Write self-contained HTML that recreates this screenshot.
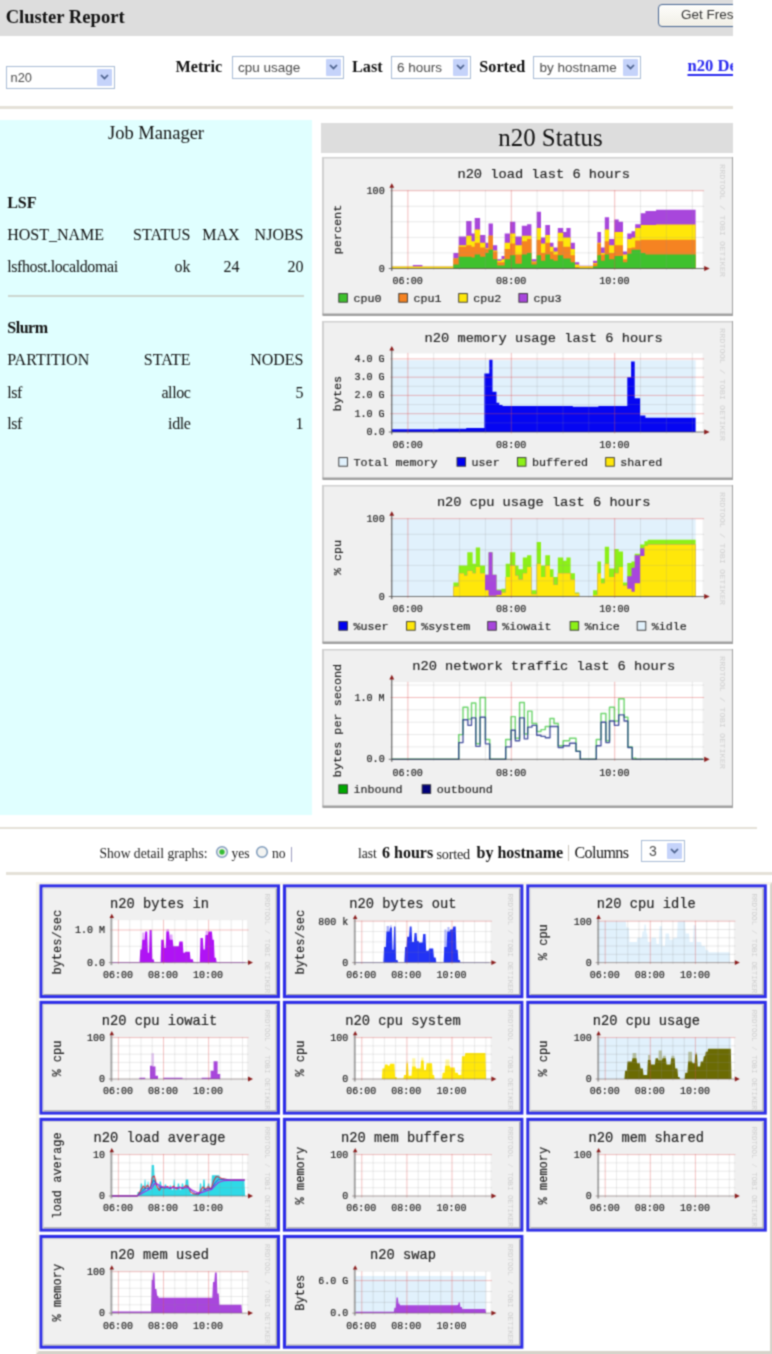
<!DOCTYPE html>
<html><head><meta charset="utf-8"><title>Cluster Report</title>
<style>
html,body{margin:0;padding:0;background:#fff;}
body{width:772px;height:1354px;position:relative;overflow:hidden;font-family:"Liberation Serif",serif;color:#000;}
.a{position:absolute;white-space:nowrap;}
.t{position:absolute;white-space:nowrap;line-height:20px;height:20px;font-size:16px;color:#111;}
.b{font-weight:bold;}
.r{text-align:right;}
.sel{position:absolute;box-sizing:border-box;border:1px solid #a9bcd6;background:#fff;font-family:"Liberation Sans",sans-serif;color:#4a4a4a;}
.sel span{position:absolute;left:5px;top:0;white-space:nowrap;}
.sel i{position:absolute;right:2px;top:2px;bottom:2px;width:15px;background:#c5d3fa;border-radius:1px;}
.sel i svg{position:absolute;left:3px;top:50%;margin-top:-3px;}
svg text{font-family:"Liberation Mono",monospace;stroke:#222;stroke-width:0.17px;}
#top{position:absolute;left:-10px;top:-10px;width:743px;height:842px;overflow:hidden;}
#topi{position:absolute;left:10px;top:10px;width:0;height:0;}
.g{position:absolute;overflow:hidden;}
.cell{position:absolute;box-sizing:border-box;border:3px solid #2727e6;background:#efefef;overflow:hidden;}
#all{position:absolute;left:0;top:0;width:772px;height:1354px;overflow:hidden;filter:url(#sf);background:#fff;}
</style></head><body><svg width="0" height="0" style="position:absolute"><filter id="sf" x="0" y="0" width="100%" height="100%" color-interpolation-filters="sRGB"><feConvolveMatrix order="3" kernelMatrix="0.0441 0.1218 0.0441 0.1218 0.3364 0.1218 0.0441 0.1218 0.0441" divisor="1" edgeMode="duplicate" preserveAlpha="true"/></filter></svg><div id="all">

<div id="top"><div id="topi">
<div class="a" style="left:-10px;top:-10px;width:743px;height:46px;background:#dddddd"></div>
<div class="t b" style="left:5.7px;top:6.8px;font-size:18.6px;">Cluster Report</div>
<div class="a" style="left:658px;top:4px;width:120px;height:23px;box-sizing:border-box;border:1.8px solid #4a6894;border-radius:4px;background:linear-gradient(#fdfdfb,#f1efe6);font-family:Liberation Sans,sans-serif;font-size:13.5px;line-height:20px;color:#333;padding-left:22px">Get Fresh Data</div>
<div class="sel" style="left:6px;top:65.5px;width:109.3px;height:23px;font-size:12.8px;line-height:21px;letter-spacing:0px"><span style="left:3.6px">n20</span><i><svg width="9" height="6" viewBox="0 0 9 6"><path d="M1 1 L4.5 4.5 L8 1" fill="none" stroke="#4a5f8a" stroke-width="1.7"/></svg></i></div>
<div class="t b" style="left:175.5px;top:57.3px;font-size:16.2px;">Metric</div>
<div class="sel" style="left:231.5px;top:55.5px;width:112.5px;height:23px;font-size:13.5px;line-height:21px;letter-spacing:0px"><span style="left:5.5px">cpu usage</span><i><svg width="9" height="6" viewBox="0 0 9 6"><path d="M1 1 L4.5 4.5 L8 1" fill="none" stroke="#4a5f8a" stroke-width="1.7"/></svg></i></div>
<div class="t b" style="left:352px;top:57.3px;font-size:16.2px;">Last</div>
<div class="sel" style="left:390.5px;top:55.5px;width:80px;height:23px;font-size:13.5px;line-height:21px;letter-spacing:0px"><span style="left:5.5px">6 hours</span><i><svg width="9" height="6" viewBox="0 0 9 6"><path d="M1 1 L4.5 4.5 L8 1" fill="none" stroke="#4a5f8a" stroke-width="1.7"/></svg></i></div>
<div class="t b" style="left:479.3px;top:57.3px;font-size:16.2px;">Sorted</div>
<div class="sel" style="left:533px;top:55.5px;width:108px;height:23px;font-size:13.5px;line-height:21px;letter-spacing:0px"><span style="left:5.5px">by hostname</span><i><svg width="9" height="6" viewBox="0 0 9 6"><path d="M1 1 L4.5 4.5 L8 1" fill="none" stroke="#4a5f8a" stroke-width="1.7"/></svg></i></div>
<div class="t b" style="left:687.5px;top:56.3px;font-size:16.6px;color:#2a2af0;text-decoration:underline;text-underline-offset:2.6px;text-decoration-thickness:1.7px">n20 Details</div>
<div class="a" style="left:-10px;top:106.3px;width:743px;height:2.6px;background:#e4e1d8"></div>
<div class="a" style="left:-10px;top:120px;width:322px;height:695px;background:#e0ffff"></div>
<div class="t " style="left:0px;top:123px;font-size:18.5px;width:312px;text-align:center;">Job Manager</div>
<div class="t b" style="left:7.2px;top:193px;font-size:16px;">LSF</div>
<div class="t " style="left:7.2px;top:225px;font-size:16px;">HOST_NAME</div>
<div class="t r" style="left:100px;top:225px;font-size:16px;width:90.5px;">STATUS</div>
<div class="t r" style="left:180px;top:225px;font-size:16px;width:59.5px;">MAX</div>
<div class="t r" style="left:240px;top:225px;font-size:16px;width:63.5px;">NJOBS</div>
<div class="t " style="left:7.2px;top:256.5px;font-size:16px;letter-spacing:-0.4px;">lsfhost.localdomai</div>
<div class="t r" style="left:100px;top:256.5px;font-size:16px;width:90.5px;">ok</div>
<div class="t r" style="left:180px;top:256.5px;font-size:16px;width:59.5px;">24</div>
<div class="t r" style="left:240px;top:256.5px;font-size:16px;width:63.5px;">20</div>
<div class="a" style="left:7.5px;top:294.8px;width:296px;height:2.4px;background:#ccd6d0"></div>
<div class="t b" style="left:7.2px;top:317.5px;font-size:16px;letter-spacing:-0.45px;">Slurm</div>
<div class="t " style="left:7.2px;top:349.5px;font-size:16px;">PARTITION</div>
<div class="t r" style="left:100px;top:349.5px;font-size:16px;width:90.5px;">STATE</div>
<div class="t r" style="left:200px;top:349.5px;font-size:16px;width:103.5px;">NODES</div>
<div class="t " style="left:7.2px;top:382.5px;font-size:16px;letter-spacing:-0.4px;">lsf</div>
<div class="t r" style="left:100px;top:382.5px;font-size:16px;width:90.5px;letter-spacing:-0.4px;">alloc</div>
<div class="t r" style="left:200px;top:382.5px;font-size:16px;width:103.5px;">5</div>
<div class="t " style="left:7.2px;top:414px;font-size:16px;letter-spacing:-0.4px;">lsf</div>
<div class="t r" style="left:100px;top:414px;font-size:16px;width:90.5px;letter-spacing:-0.4px;">idle</div>
<div class="t r" style="left:200px;top:414px;font-size:16px;width:103.5px;">1</div>
<div class="a" style="left:320.5px;top:123.3px;width:413px;height:30px;background:#dddddd"></div>
<div class="t " style="left:320.5px;top:125.4px;font-size:24.9px;width:460px;text-align:center;line-height:26px;height:26px;">n20 Status</div>
<svg class="g" style="left:322px;top:157px" width="413" height="159"><g transform="translate(0.50,0.00)"><rect x="0" y="0" width="411" height="158" fill="#f0f0f0"/><path d="M0 158 L0 0 L411 0" fill="none" stroke="#d0d0d0" stroke-width="3"/><path d="M0 158 L411 158 L411 0" fill="none" stroke="#a0a0a0" stroke-width="3"/><rect x="69.3" y="33.7" width="310.8" height="77.8" fill="#fff"/><path d="M69.3 109.6 L90.3 109.6 L90.3 108 L99.9 108 L99.9 109.6 L130.9 109.6 L130.9 95.9 L136.2 95.9 L136.2 79.6 L143.7 79.6 L143.7 64 L149 64 L149 76.5 L152.2 76.5 L152.2 60.9 L157.6 60.9 L157.6 78 L162.9 78 L162.9 85.8 L166.1 85.8 L166.1 66.4 L170.4 66.4 L170.4 88.2 L174.7 88.2 L174.7 102.2 L179 102.2 L179 99.1 L182.2 99.1 L182.2 76.5 L187.5 76.5 L187.5 64.8 L192.8 64.8 L192.8 79.6 L199.3 79.6 L199.3 68.7 L204.6 68.7 L204.6 67.2 L208.9 67.2 L208.9 102.2 L214.2 102.2 L214.2 54.7 L218.5 54.7 L218.5 80.4 L222.8 80.4 L222.8 67.9 L227.5 67.9 L227.5 85.8 L231 85.8 L231 90.5 L235.3 90.5 L235.3 71 L240.7 71 L240.7 74.9 L243.9 74.9 L243.9 71 L248.1 71 L248.1 85.8 L252.4 85.8 L252.4 105.3 L256.7 105.3 L256.7 108.8 L270.6 108.8 L270.6 103.7 L274.9 103.7 L274.9 74.9 L278.5 74.9 L278.5 90.5 L282.3 90.5 L282.3 60.2 L286.6 60.2 L286.6 81.9 L291.9 81.9 L291.9 62.5 L296.2 62.5 L296.2 64.8 L300.5 64.8 L300.5 94.4 L304.8 94.4 L304.8 76.5 L309 76.5 L309 74.2 L312.7 74.2 L312.7 67.2 L318.2 67.2 L318.2 56.3 L322.9 56.3 L322.9 53.9 L333.6 53.9 L333.6 52.8 L373.1 52.8 L373.1 111.5 L69.3 111.5Z" fill="#a846dc"/><path d="M69.3 109.6 L90.3 109.6 L90.3 109.6 L99.9 109.6 L99.9 109.6 L130.9 109.6 L130.9 101.4 L136.2 101.4 L136.2 88.2 L143.7 88.2 L143.7 78.8 L149 78.8 L149 84.3 L152.2 84.3 L152.2 72.6 L157.6 72.6 L157.6 85.8 L162.9 85.8 L162.9 91.3 L166.1 91.3 L166.1 78.8 L170.4 78.8 L170.4 93.6 L174.7 93.6 L174.7 103.7 L179 103.7 L179 102.2 L182.2 102.2 L182.2 85.8 L187.5 85.8 L187.5 76.5 L192.8 76.5 L192.8 88.2 L199.3 88.2 L199.3 78.8 L204.6 78.8 L204.6 78.8 L208.9 78.8 L208.9 104.5 L214.2 104.5 L214.2 71 L218.5 71 L218.5 86.6 L222.8 86.6 L222.8 78 L227.5 78 L227.5 89.7 L231 89.7 L231 94.4 L235.3 94.4 L235.3 75.7 L240.7 75.7 L240.7 80.4 L243.9 80.4 L243.9 80.4 L248.1 80.4 L248.1 92 L252.4 92 L252.4 107.6 L256.7 107.6 L256.7 109.2 L270.6 109.2 L270.6 106.1 L274.9 106.1 L274.9 85.8 L278.5 85.8 L278.5 95.9 L282.3 95.9 L282.3 72.6 L286.6 72.6 L286.6 88.2 L291.9 88.2 L291.9 74.9 L296.2 74.9 L296.2 74.9 L300.5 74.9 L300.5 97.5 L304.8 97.5 L304.8 81.9 L309 81.9 L309 80.4 L312.7 80.4 L312.7 71 L318.2 71 L318.2 67.9 L322.9 67.9 L322.9 67.9 L333.6 67.9 L333.6 67.5 L373.1 67.5 L373.1 111.5 L69.3 111.5Z" fill="#ffe70a"/><path d="M69.3 111.5 L90.3 111.5 L90.3 111.5 L99.9 111.5 L99.9 111.5 L130.9 111.5 L130.9 101.4 L136.2 101.4 L136.2 89.7 L143.7 89.7 L143.7 88.2 L149 88.2 L149 89.7 L152.2 89.7 L152.2 85.8 L157.6 85.8 L157.6 90.5 L162.9 90.5 L162.9 92 L166.1 92 L166.1 78.8 L170.4 78.8 L170.4 94.4 L174.7 94.4 L174.7 105.3 L179 105.3 L179 105.3 L182.2 105.3 L182.2 92 L187.5 92 L187.5 86.6 L192.8 86.6 L192.8 97.5 L199.3 97.5 L199.3 84.3 L204.6 84.3 L204.6 81.9 L208.9 81.9 L208.9 105.3 L214.2 105.3 L214.2 82.7 L218.5 82.7 L218.5 95.9 L222.8 95.9 L222.8 85.8 L227.5 85.8 L227.5 94.4 L231 94.4 L231 97.5 L235.3 97.5 L235.3 84.3 L240.7 84.3 L240.7 89.7 L243.9 89.7 L243.9 89.7 L248.1 89.7 L248.1 98.3 L252.4 98.3 L252.4 109.9 L256.7 109.9 L256.7 110.7 L270.6 110.7 L270.6 106.8 L274.9 106.8 L274.9 86.6 L278.5 86.6 L278.5 97.5 L282.3 97.5 L282.3 84.3 L286.6 84.3 L286.6 95.9 L291.9 95.9 L291.9 88.2 L296.2 88.2 L296.2 88.2 L300.5 88.2 L300.5 102.2 L304.8 102.2 L304.8 91.3 L309 91.3 L309 90.5 L312.7 90.5 L312.7 83.5 L318.2 83.5 L318.2 82.7 L322.9 82.7 L322.9 82.7 L333.6 82.7 L333.6 82.7 L373.1 82.7 L373.1 111.5 L69.3 111.5Z" fill="#f58322"/><path d="M69.3 111.5 L90.3 111.5 L90.3 111.5 L99.9 111.5 L99.9 111.5 L130.9 111.5 L130.9 107.6 L136.2 107.6 L136.2 99.8 L143.7 99.8 L143.7 99.8 L149 99.8 L149 100.6 L152.2 100.6 L152.2 97.5 L157.6 97.5 L157.6 99.8 L162.9 99.8 L162.9 95.9 L166.1 95.9 L166.1 92.8 L170.4 92.8 L170.4 102.2 L174.7 102.2 L174.7 108.4 L179 108.4 L179 108.4 L182.2 108.4 L182.2 102.2 L187.5 102.2 L187.5 98.3 L192.8 98.3 L192.8 106.8 L199.3 106.8 L199.3 97.5 L204.6 97.5 L204.6 95.9 L208.9 95.9 L208.9 107.6 L214.2 107.6 L214.2 98.3 L218.5 98.3 L218.5 103.7 L222.8 103.7 L222.8 97.5 L227.5 97.5 L227.5 102.2 L231 102.2 L231 103.7 L235.3 103.7 L235.3 98.3 L240.7 98.3 L240.7 101.4 L243.9 101.4 L243.9 101.4 L248.1 101.4 L248.1 105.3 L252.4 105.3 L252.4 110.7 L256.7 110.7 L256.7 111.1 L270.6 111.1 L270.6 109.2 L274.9 109.2 L274.9 98.3 L278.5 98.3 L278.5 103.7 L282.3 103.7 L282.3 97.5 L286.6 97.5 L286.6 102.2 L291.9 102.2 L291.9 99.1 L296.2 99.1 L296.2 99.1 L300.5 99.1 L300.5 105.3 L304.8 105.3 L304.8 96.7 L309 96.7 L309 92.8 L312.7 92.8 L312.7 92.8 L318.2 92.8 L318.2 95.9 L322.9 95.9 L322.9 97.5 L333.6 97.5 L333.6 97.5 L373.1 97.5 L373.1 111.5 L69.3 111.5Z" fill="#3fc12e"/><line x1="85.4" y1="33.2" x2="85.4" y2="113.0" stroke="#e05050" stroke-width="0.9" stroke-opacity="0.42"/><line x1="111.2" y1="33.2" x2="111.2" y2="113.0" stroke="#909090" stroke-width="0.9" stroke-opacity="0.22"/><line x1="137.1" y1="33.2" x2="137.1" y2="113.0" stroke="#909090" stroke-width="0.9" stroke-opacity="0.22"/><line x1="162.9" y1="33.2" x2="162.9" y2="113.0" stroke="#909090" stroke-width="0.9" stroke-opacity="0.22"/><line x1="188.8" y1="33.2" x2="188.8" y2="113.0" stroke="#e05050" stroke-width="0.9" stroke-opacity="0.42"/><line x1="214.6" y1="33.2" x2="214.6" y2="113.0" stroke="#909090" stroke-width="0.9" stroke-opacity="0.22"/><line x1="240.5" y1="33.2" x2="240.5" y2="113.0" stroke="#909090" stroke-width="0.9" stroke-opacity="0.22"/><line x1="266.3" y1="33.2" x2="266.3" y2="113.0" stroke="#909090" stroke-width="0.9" stroke-opacity="0.22"/><line x1="292.2" y1="33.2" x2="292.2" y2="113.0" stroke="#e05050" stroke-width="0.9" stroke-opacity="0.42"/><line x1="318" y1="33.2" x2="318" y2="113.0" stroke="#909090" stroke-width="0.9" stroke-opacity="0.22"/><line x1="343.9" y1="33.2" x2="343.9" y2="113.0" stroke="#909090" stroke-width="0.9" stroke-opacity="0.22"/><line x1="369.8" y1="33.2" x2="369.8" y2="113.0" stroke="#909090" stroke-width="0.9" stroke-opacity="0.22"/><line x1="67.8" y1="95.9" x2="381.6" y2="95.9" stroke="#909090" stroke-width="0.9" stroke-opacity="0.22"/><line x1="67.8" y1="80.4" x2="381.6" y2="80.4" stroke="#909090" stroke-width="0.9" stroke-opacity="0.22"/><line x1="67.8" y1="64.8" x2="381.6" y2="64.8" stroke="#909090" stroke-width="0.9" stroke-opacity="0.22"/><line x1="67.8" y1="49.3" x2="381.6" y2="49.3" stroke="#909090" stroke-width="0.9" stroke-opacity="0.22"/><line x1="67.8" y1="33.7" x2="381.6" y2="33.7" stroke="#e05050" stroke-width="0.9" stroke-opacity="0.42"/><line x1="69.3" y1="28.700000000000003" x2="69.3" y2="114.0" stroke="#4a4a4a" stroke-width="1"/><line x1="66.3" y1="111.5" x2="384.2" y2="111.5" stroke="#4a4a4a" stroke-width="1" stroke-opacity="0.75"/><path d="M387.2 111.5 l-5.5 -2.6 v5.2z" fill="#8a1c1c"/><path d="M69.3 26.200000000000003 l-2.4 4.6 h4.8z" fill="#8a1c1c"/><text x="62.2" y="36.7" font-size="10.1" text-anchor="end" fill="#222">100</text><text x="62.2" y="114.5" font-size="10.1" text-anchor="end" fill="#222">0</text><text x="85.2" y="126.6" font-size="10.1" text-anchor="middle" fill="#222">06:00</text><text x="188.7" y="126.6" font-size="10.1" text-anchor="middle" fill="#222">08:00</text><text x="291.9" y="126.6" font-size="10.1" text-anchor="middle" fill="#222">10:00</text><text x="221.2" y="21.4" font-size="13.7" text-anchor="middle" fill="#222">n20 load last 6 hours</text><text transform="translate(18.6,72.5) rotate(-90)" font-size="11.8" text-anchor="middle" fill="#222">percent</text><rect x="16.3" y="136.6" width="8.6" height="8.6" fill="#3fc12e" stroke="#333" stroke-width="0.9"/><text x="30.9" y="144.89999999999998" font-size="11.7" fill="#222">cpu0</text><rect x="76.3" y="136.6" width="8.6" height="8.6" fill="#f58322" stroke="#333" stroke-width="0.9"/><text x="90.89999999999999" y="144.89999999999998" font-size="11.7" fill="#222">cpu1</text><rect x="136.2" y="136.6" width="8.6" height="8.6" fill="#ffe70a" stroke="#333" stroke-width="0.9"/><text x="150.79999999999998" y="144.89999999999998" font-size="11.7" fill="#222">cpu2</text><rect x="196.4" y="136.6" width="8.6" height="8.6" fill="#a846dc" stroke="#333" stroke-width="0.9"/><text x="211.0" y="144.89999999999998" font-size="11.7" fill="#222">cpu3</text><text transform="translate(397.6,7) rotate(90)" font-size="6.3" fill="#cfcfcf" style="stroke:none" font-family="Liberation Sans, sans-serif" textLength="113" lengthAdjust="spacingAndGlyphs">RRDTOOL / TOBI OETIKER</text></g></svg>
<svg class="g" style="left:322px;top:321px" width="413" height="159"><g transform="translate(0.50,0.00)"><rect x="0" y="0" width="411" height="158" fill="#f0f0f0"/><path d="M0 158 L0 0 L411 0" fill="none" stroke="#d0d0d0" stroke-width="3"/><path d="M0 158 L411 158 L411 0" fill="none" stroke="#a0a0a0" stroke-width="3"/><rect x="69.3" y="32.4" width="310.8" height="78.6" fill="#fff"/><rect x="69.3" y="39.2" width="303.8" height="71.8" fill="#e1f1fc"/><path d="M69.3 108.3 L115.9 108.3 L115.9 107.7 L143.7 107.7 L143.7 107 L161.9 107 L161.9 52.5 L166.8 52.5 L166.8 38.8 L170 38.8 L170 70.8 L174 70.8 L174 81.8 L176.8 81.8 L176.8 84.1 L180 84.1 L180 85 L227.5 85 L227.5 85 L250.3 85 L250.3 85.8 L275.9 85.8 L275.9 85 L304.8 85 L304.8 56.2 L308.6 56.2 L308.6 40.6 L312.2 40.6 L312.2 77.2 L317.6 77.2 L317.6 94.5 L322.9 94.5 L322.9 96.7 L373.1 96.7 L373.1 111 L69.3 111Z" fill="#0606f2"/><line x1="85.4" y1="31.9" x2="85.4" y2="112.5" stroke="#e05050" stroke-width="0.9" stroke-opacity="0.42"/><line x1="111.2" y1="31.9" x2="111.2" y2="112.5" stroke="#909090" stroke-width="0.9" stroke-opacity="0.22"/><line x1="137.1" y1="31.9" x2="137.1" y2="112.5" stroke="#909090" stroke-width="0.9" stroke-opacity="0.22"/><line x1="162.9" y1="31.9" x2="162.9" y2="112.5" stroke="#909090" stroke-width="0.9" stroke-opacity="0.22"/><line x1="188.8" y1="31.9" x2="188.8" y2="112.5" stroke="#e05050" stroke-width="0.9" stroke-opacity="0.42"/><line x1="214.6" y1="31.9" x2="214.6" y2="112.5" stroke="#909090" stroke-width="0.9" stroke-opacity="0.22"/><line x1="240.5" y1="31.9" x2="240.5" y2="112.5" stroke="#909090" stroke-width="0.9" stroke-opacity="0.22"/><line x1="266.3" y1="31.9" x2="266.3" y2="112.5" stroke="#909090" stroke-width="0.9" stroke-opacity="0.22"/><line x1="292.2" y1="31.9" x2="292.2" y2="112.5" stroke="#e05050" stroke-width="0.9" stroke-opacity="0.42"/><line x1="318" y1="31.9" x2="318" y2="112.5" stroke="#909090" stroke-width="0.9" stroke-opacity="0.22"/><line x1="343.9" y1="31.9" x2="343.9" y2="112.5" stroke="#909090" stroke-width="0.9" stroke-opacity="0.22"/><line x1="369.8" y1="31.9" x2="369.8" y2="112.5" stroke="#909090" stroke-width="0.9" stroke-opacity="0.22"/><line x1="67.8" y1="101.9" x2="381.6" y2="101.9" stroke="#909090" stroke-width="0.9" stroke-opacity="0.22"/><line x1="67.8" y1="83.6" x2="381.6" y2="83.6" stroke="#909090" stroke-width="0.9" stroke-opacity="0.22"/><line x1="67.8" y1="65.3" x2="381.6" y2="65.3" stroke="#909090" stroke-width="0.9" stroke-opacity="0.22"/><line x1="67.8" y1="47" x2="381.6" y2="47" stroke="#909090" stroke-width="0.9" stroke-opacity="0.22"/><line x1="67.8" y1="92.7" x2="381.6" y2="92.7" stroke="#e05050" stroke-width="0.9" stroke-opacity="0.42"/><line x1="67.8" y1="74.4" x2="381.6" y2="74.4" stroke="#e05050" stroke-width="0.9" stroke-opacity="0.42"/><line x1="67.8" y1="56.2" x2="381.6" y2="56.2" stroke="#e05050" stroke-width="0.9" stroke-opacity="0.42"/><line x1="67.8" y1="37.9" x2="381.6" y2="37.9" stroke="#e05050" stroke-width="0.9" stroke-opacity="0.42"/><line x1="69.3" y1="27.4" x2="69.3" y2="113.5" stroke="#4a4a4a" stroke-width="1"/><line x1="66.3" y1="111.0" x2="384.2" y2="111.0" stroke="#4a4a4a" stroke-width="1" stroke-opacity="0.75"/><path d="M387.2 111.0 l-5.5 -2.6 v5.2z" fill="#8a1c1c"/><path d="M69.3 24.9 l-2.4 4.6 h4.8z" fill="#8a1c1c"/><text x="62.2" y="40.9" font-size="10.1" text-anchor="end" fill="#222">4.0 G</text><text x="62.2" y="59.2" font-size="10.1" text-anchor="end" fill="#222">3.0 G</text><text x="62.2" y="77.4" font-size="10.1" text-anchor="end" fill="#222">2.0 G</text><text x="62.2" y="95.7" font-size="10.1" text-anchor="end" fill="#222">1.0 G</text><text x="62.2" y="114" font-size="10.1" text-anchor="end" fill="#222">0.0</text><text x="85.2" y="126.6" font-size="10.1" text-anchor="middle" fill="#222">06:00</text><text x="188.7" y="126.6" font-size="10.1" text-anchor="middle" fill="#222">08:00</text><text x="291.9" y="126.6" font-size="10.1" text-anchor="middle" fill="#222">10:00</text><text x="221.2" y="21.4" font-size="13.7" text-anchor="middle" fill="#222">n20 memory usage last 6 hours</text><text transform="translate(18.6,72.5) rotate(-90)" font-size="11.8" text-anchor="middle" fill="#222">bytes</text><rect x="16.3" y="136.6" width="8.6" height="8.6" fill="#e1f1fc" stroke="#333" stroke-width="0.9"/><text x="30.9" y="144.89999999999998" font-size="11.7" fill="#222">Total memory</text><rect x="134.5" y="136.6" width="8.6" height="8.6" fill="#0000f0" stroke="#333" stroke-width="0.9"/><text x="149.1" y="144.89999999999998" font-size="11.7" fill="#222">user</text><rect x="194.9" y="136.6" width="8.6" height="8.6" fill="#8cf018" stroke="#333" stroke-width="0.9"/><text x="209.5" y="144.89999999999998" font-size="11.7" fill="#222">buffered</text><rect x="283.2" y="136.6" width="8.6" height="8.6" fill="#ffe70a" stroke="#333" stroke-width="0.9"/><text x="297.8" y="144.89999999999998" font-size="11.7" fill="#222">shared</text><text transform="translate(397.6,7) rotate(90)" font-size="6.3" fill="#cfcfcf" style="stroke:none" font-family="Liberation Sans, sans-serif" textLength="113" lengthAdjust="spacingAndGlyphs">RRDTOOL / TOBI OETIKER</text></g></svg>
<svg class="g" style="left:322px;top:485px" width="413" height="159"><g transform="translate(0.50,0.00)"><rect x="0" y="0" width="411" height="158" fill="#f0f0f0"/><path d="M0 158 L0 0 L411 0" fill="none" stroke="#d0d0d0" stroke-width="3"/><path d="M0 158 L411 158 L411 0" fill="none" stroke="#a0a0a0" stroke-width="3"/><rect x="69.3" y="33.7" width="310.8" height="77.8" fill="#fff"/><rect x="69.3" y="33.7" width="303.8" height="77.8" fill="#e1f1fc"/><path d="M130.9 97.5 L136.2 97.5 L136.2 80.4 L141.6 80.4 L141.6 80.4 L144.8 80.4 L144.8 67.2 L150.1 67.2 L150.1 78.8 L153.3 78.8 L153.3 62.5 L157.6 62.5 L157.6 80.4 L162.5 80.4 L162.5 89.7 L166.1 89.7 L166.1 67.2 L170 67.2 L170 89.7 L174 89.7 L174 104.5 L179 104.5 L179 103.7 L183.2 103.7 L183.2 78.8 L187.5 78.8 L187.5 67.2 L192.8 67.2 L192.8 80.4 L196 80.4 L196 84.3 L200.3 84.3 L200.3 72.6 L204.6 72.6 L204.6 70.3 L208.9 70.3 L208.9 105.3 L214.2 105.3 L214.2 57 L218.5 57 L218.5 80.4 L222.8 80.4 L222.8 70.3 L227.5 70.3 L227.5 84.3 L231 84.3 L231 92 L235.3 92 L235.3 72.6 L240.7 72.6 L240.7 75.7 L243.9 75.7 L243.9 72.6 L248.1 72.6 L248.1 88.2 L252.4 88.2 L252.4 107.6 L256.7 107.6 L256.7 111.5 L270.6 111.5 L270.6 105.3 L274.9 105.3 L274.9 76.5 L278.5 76.5 L278.5 93.6 L282.3 93.6 L282.3 61.7 L286.6 61.7 L286.6 83.5 L291.9 83.5 L291.9 64 L296.2 64 L296.2 66.4 L300.5 66.4 L300.5 97.5 L304.8 97.5 L304.8 78 L309 78 L309 76.5 L312.2 76.5 L312.2 68.7 L317.6 68.7 L317.6 59.4 L321.9 59.4 L321.9 56.3 L325.1 56.3 L325.1 54.7 L373.1 54.7 L373.1 111.5 L130.9 111.5Z" fill="#8cf018"/><path d="M130.9 101.4 L136.2 101.4 L136.2 88.2 L141.6 88.2 L141.6 90.5 L144.8 90.5 L144.8 85.8 L150.1 85.8 L150.1 88.2 L153.3 88.2 L153.3 81.9 L157.6 81.9 L157.6 88.2 L162.5 88.2 L162.5 89.7 L166.1 89.7 L166.1 67.2 L170 67.2 L170 89.7 L174 89.7 L174 105.3 L179 105.3 L179 107.6 L183.2 107.6 L183.2 92 L187.5 92 L187.5 80.4 L192.8 80.4 L192.8 90.5 L196 90.5 L196 94.4 L200.3 94.4 L200.3 88.2 L204.6 88.2 L204.6 81.9 L208.9 81.9 L208.9 109.2 L214.2 109.2 L214.2 78.8 L218.5 78.8 L218.5 92 L222.8 92 L222.8 80.4 L227.5 80.4 L227.5 92 L231 92 L231 99.8 L235.3 99.8 L235.3 88.2 L240.7 88.2 L240.7 88.2 L243.9 88.2 L243.9 88.2 L248.1 88.2 L248.1 94.4 L252.4 94.4 L252.4 108.4 L256.7 108.4 L256.7 111.5 L270.6 111.5 L270.6 109.9 L274.9 109.9 L274.9 88.2 L278.5 88.2 L278.5 98.3 L282.3 98.3 L282.3 78.8 L286.6 78.8 L286.6 92 L291.9 92 L291.9 88.2 L296.2 88.2 L296.2 81.9 L300.5 81.9 L300.5 100.6 L304.8 100.6 L304.8 91.3 L309 91.3 L309 82.7 L312.2 82.7 L312.2 70.3 L317.6 70.3 L317.6 63.3 L321.9 63.3 L321.9 60.9 L325.1 60.9 L325.1 59.4 L373.1 59.4 L373.1 111.5 L130.9 111.5Z" fill="#a846dc"/><path d="M130.9 101.4 L136.2 101.4 L136.2 88.2 L141.6 88.2 L141.6 90.5 L144.8 90.5 L144.8 85.8 L150.1 85.8 L150.1 88.2 L153.3 88.2 L153.3 81.9 L157.6 81.9 L157.6 88.2 L162.5 88.2 L162.5 105.3 L166.1 105.3 L166.1 110.7 L170 110.7 L170 110.7 L174 110.7 L174 109.9 L179 109.9 L179 107.6 L183.2 107.6 L183.2 92 L187.5 92 L187.5 80.4 L192.8 80.4 L192.8 90.5 L196 90.5 L196 94.4 L200.3 94.4 L200.3 88.2 L204.6 88.2 L204.6 81.9 L208.9 81.9 L208.9 109.2 L214.2 109.2 L214.2 78.8 L218.5 78.8 L218.5 92 L222.8 92 L222.8 80.4 L227.5 80.4 L227.5 92 L231 92 L231 99.8 L235.3 99.8 L235.3 88.2 L240.7 88.2 L240.7 88.2 L243.9 88.2 L243.9 88.2 L248.1 88.2 L248.1 94.4 L252.4 94.4 L252.4 108.4 L256.7 108.4 L256.7 111.5 L270.6 111.5 L270.6 109.9 L274.9 109.9 L274.9 88.2 L278.5 88.2 L278.5 98.3 L282.3 98.3 L282.3 78.8 L286.6 78.8 L286.6 92 L291.9 92 L291.9 88.2 L296.2 88.2 L296.2 81.9 L300.5 81.9 L300.5 100.6 L304.8 100.6 L304.8 103.7 L309 103.7 L309 106.8 L312.2 106.8 L312.2 98.3 L317.6 98.3 L317.6 71 L321.9 71 L321.9 60.9 L325.1 60.9 L325.1 59.4 L373.1 59.4 L373.1 111.5 L130.9 111.5Z" fill="#ffe70a"/><line x1="85.4" y1="33.2" x2="85.4" y2="113.0" stroke="#e05050" stroke-width="0.9" stroke-opacity="0.42"/><line x1="111.2" y1="33.2" x2="111.2" y2="113.0" stroke="#909090" stroke-width="0.9" stroke-opacity="0.22"/><line x1="137.1" y1="33.2" x2="137.1" y2="113.0" stroke="#909090" stroke-width="0.9" stroke-opacity="0.22"/><line x1="162.9" y1="33.2" x2="162.9" y2="113.0" stroke="#909090" stroke-width="0.9" stroke-opacity="0.22"/><line x1="188.8" y1="33.2" x2="188.8" y2="113.0" stroke="#e05050" stroke-width="0.9" stroke-opacity="0.42"/><line x1="214.6" y1="33.2" x2="214.6" y2="113.0" stroke="#909090" stroke-width="0.9" stroke-opacity="0.22"/><line x1="240.5" y1="33.2" x2="240.5" y2="113.0" stroke="#909090" stroke-width="0.9" stroke-opacity="0.22"/><line x1="266.3" y1="33.2" x2="266.3" y2="113.0" stroke="#909090" stroke-width="0.9" stroke-opacity="0.22"/><line x1="292.2" y1="33.2" x2="292.2" y2="113.0" stroke="#e05050" stroke-width="0.9" stroke-opacity="0.42"/><line x1="318" y1="33.2" x2="318" y2="113.0" stroke="#909090" stroke-width="0.9" stroke-opacity="0.22"/><line x1="343.9" y1="33.2" x2="343.9" y2="113.0" stroke="#909090" stroke-width="0.9" stroke-opacity="0.22"/><line x1="369.8" y1="33.2" x2="369.8" y2="113.0" stroke="#909090" stroke-width="0.9" stroke-opacity="0.22"/><line x1="67.8" y1="95.9" x2="381.6" y2="95.9" stroke="#909090" stroke-width="0.9" stroke-opacity="0.22"/><line x1="67.8" y1="80.4" x2="381.6" y2="80.4" stroke="#909090" stroke-width="0.9" stroke-opacity="0.22"/><line x1="67.8" y1="64.8" x2="381.6" y2="64.8" stroke="#909090" stroke-width="0.9" stroke-opacity="0.22"/><line x1="67.8" y1="49.3" x2="381.6" y2="49.3" stroke="#909090" stroke-width="0.9" stroke-opacity="0.22"/><line x1="67.8" y1="33.7" x2="381.6" y2="33.7" stroke="#e05050" stroke-width="0.9" stroke-opacity="0.42"/><line x1="69.3" y1="28.700000000000003" x2="69.3" y2="114.0" stroke="#4a4a4a" stroke-width="1"/><line x1="66.3" y1="111.5" x2="384.2" y2="111.5" stroke="#4a4a4a" stroke-width="1" stroke-opacity="0.75"/><path d="M387.2 111.5 l-5.5 -2.6 v5.2z" fill="#8a1c1c"/><path d="M69.3 26.200000000000003 l-2.4 4.6 h4.8z" fill="#8a1c1c"/><text x="62.2" y="36.7" font-size="10.1" text-anchor="end" fill="#222">100</text><text x="62.2" y="114.5" font-size="10.1" text-anchor="end" fill="#222">0</text><text x="85.2" y="126.6" font-size="10.1" text-anchor="middle" fill="#222">06:00</text><text x="188.7" y="126.6" font-size="10.1" text-anchor="middle" fill="#222">08:00</text><text x="291.9" y="126.6" font-size="10.1" text-anchor="middle" fill="#222">10:00</text><text x="221.2" y="21.4" font-size="13.7" text-anchor="middle" fill="#222">n20 cpu usage last 6 hours</text><text transform="translate(18.6,72.5) rotate(-90)" font-size="11.8" text-anchor="middle" fill="#222">% cpu</text><rect x="16.3" y="136.6" width="8.6" height="8.6" fill="#0000f0" stroke="#333" stroke-width="0.9"/><text x="30.9" y="144.89999999999998" font-size="11.7" fill="#222">%user</text><rect x="84.1" y="136.6" width="8.6" height="8.6" fill="#ffe70a" stroke="#333" stroke-width="0.9"/><text x="98.69999999999999" y="144.89999999999998" font-size="11.7" fill="#222">%system</text><rect x="165.2" y="136.6" width="8.6" height="8.6" fill="#a846dc" stroke="#333" stroke-width="0.9"/><text x="179.79999999999998" y="144.89999999999998" font-size="11.7" fill="#222">%iowait</text><rect x="247.6" y="136.6" width="8.6" height="8.6" fill="#8cf018" stroke="#333" stroke-width="0.9"/><text x="262.2" y="144.89999999999998" font-size="11.7" fill="#222">%nice</text><rect x="314.7" y="136.6" width="8.6" height="8.6" fill="#e1f1fc" stroke="#333" stroke-width="0.9"/><text x="329.3" y="144.89999999999998" font-size="11.7" fill="#222">%idle</text><text transform="translate(397.6,7) rotate(90)" font-size="6.3" fill="#cfcfcf" style="stroke:none" font-family="Liberation Sans, sans-serif" textLength="113" lengthAdjust="spacingAndGlyphs">RRDTOOL / TOBI OETIKER</text></g></svg>
<svg class="g" style="left:322px;top:649px" width="413" height="159"><g transform="translate(0.50,0.00)"><rect x="0" y="0" width="411" height="158" fill="#f0f0f0"/><path d="M0 158 L0 0 L411 0" fill="none" stroke="#d0d0d0" stroke-width="3"/><path d="M0 158 L411 158 L411 0" fill="none" stroke="#a0a0a0" stroke-width="3"/><rect x="69.3" y="33.3" width="310.8" height="77.0" fill="#fff"/><line x1="85.4" y1="32.8" x2="85.4" y2="111.8" stroke="#e05050" stroke-width="0.9" stroke-opacity="0.42"/><line x1="111.2" y1="32.8" x2="111.2" y2="111.8" stroke="#909090" stroke-width="0.9" stroke-opacity="0.22"/><line x1="137.1" y1="32.8" x2="137.1" y2="111.8" stroke="#909090" stroke-width="0.9" stroke-opacity="0.22"/><line x1="162.9" y1="32.8" x2="162.9" y2="111.8" stroke="#909090" stroke-width="0.9" stroke-opacity="0.22"/><line x1="188.8" y1="32.8" x2="188.8" y2="111.8" stroke="#e05050" stroke-width="0.9" stroke-opacity="0.42"/><line x1="214.6" y1="32.8" x2="214.6" y2="111.8" stroke="#909090" stroke-width="0.9" stroke-opacity="0.22"/><line x1="240.5" y1="32.8" x2="240.5" y2="111.8" stroke="#909090" stroke-width="0.9" stroke-opacity="0.22"/><line x1="266.3" y1="32.8" x2="266.3" y2="111.8" stroke="#909090" stroke-width="0.9" stroke-opacity="0.22"/><line x1="292.2" y1="32.8" x2="292.2" y2="111.8" stroke="#e05050" stroke-width="0.9" stroke-opacity="0.42"/><line x1="318" y1="32.8" x2="318" y2="111.8" stroke="#909090" stroke-width="0.9" stroke-opacity="0.22"/><line x1="343.9" y1="32.8" x2="343.9" y2="111.8" stroke="#909090" stroke-width="0.9" stroke-opacity="0.22"/><line x1="369.8" y1="32.8" x2="369.8" y2="111.8" stroke="#909090" stroke-width="0.9" stroke-opacity="0.22"/><line x1="67.8" y1="97.9" x2="381.6" y2="97.9" stroke="#909090" stroke-width="0.9" stroke-opacity="0.22"/><line x1="67.8" y1="85.6" x2="381.6" y2="85.6" stroke="#909090" stroke-width="0.9" stroke-opacity="0.22"/><line x1="67.8" y1="73.2" x2="381.6" y2="73.2" stroke="#909090" stroke-width="0.9" stroke-opacity="0.22"/><line x1="67.8" y1="60.8" x2="381.6" y2="60.8" stroke="#909090" stroke-width="0.9" stroke-opacity="0.22"/><line x1="67.8" y1="48.5" x2="381.6" y2="48.5" stroke="#e05050" stroke-width="0.9" stroke-opacity="0.42"/><line x1="67.8" y1="36.1" x2="381.6" y2="36.1" stroke="#909090" stroke-width="0.9" stroke-opacity="0.22"/><path d="M69.3 110.3 L136.2 110.3 L136.2 85.6 L140.5 85.6 L140.5 58.3 L145.4 58.3 L145.4 70.1 L149 70.1 L149 54 L153.3 54 L153.3 94.8 L157.6 94.8 L157.6 48.5 L162.9 48.5 L162.9 90.5 L167.2 90.5 L167.2 110.3 L183.2 110.3 L183.2 90.5 L188.6 90.5 L188.6 67.6 L192.8 67.6 L192.8 89.3 L197.1 89.3 L197.1 53.4 L201.8 53.4 L201.8 84.9 L205.2 84.9 L205.2 62.1 L209.5 62.1 L209.5 74.4 L214.2 74.4 L214.2 82.5 L218.5 82.5 L218.5 80.6 L222.8 80.6 L222.8 77.5 L227.5 77.5 L227.5 69.5 L231.5 69.5 L231.5 74.4 L235.7 74.4 L235.7 96.7 L240.7 96.7 L240.7 91.7 L247.1 91.7 L247.1 89.3 L253.5 89.3 L253.5 102.3 L257.8 102.3 L257.8 110.3 L273.8 110.3 L273.8 90.5 L278.5 90.5 L278.5 64.5 L283.4 64.5 L283.4 91.7 L287 91.7 L287 58.3 L291.9 58.3 L291.9 72 L296.2 72 L296.2 49.7 L301.6 49.7 L301.6 68.2 L305.4 68.2 L305.4 97.9 L309.7 97.9 L309.7 109.1 L313.3 109.1 L313.3 110.3 L380.6 110.3" fill="none" stroke="#35c535" stroke-width="1.45" stroke-opacity="0.7" stroke-linejoin="round"/><path d="M69.3 110.3 L136.2 110.3 L136.2 93.6 L140.5 93.6 L140.5 70.7 L145.4 70.7 L145.4 76.3 L149 76.3 L149 68.9 L153.3 68.9 L153.3 97.3 L157.6 97.3 L157.6 68.2 L162.9 68.2 L162.9 94.8 L167.2 94.8 L167.2 110.3 L183.2 110.3 L183.2 97.9 L188.6 97.9 L188.6 81.2 L192.8 81.2 L192.8 91.7 L197.1 91.7 L197.1 68.9 L201.8 68.9 L201.8 89.9 L205.2 89.9 L205.2 78.1 L209.5 78.1 L209.5 76.3 L214.2 76.3 L214.2 86.2 L218.5 86.2 L218.5 87.4 L222.8 87.4 L222.8 88.7 L227.5 88.7 L227.5 77.5 L231.5 77.5 L231.5 77.5 L235.7 77.5 L235.7 98.5 L240.7 98.5 L240.7 96.7 L247.1 96.7 L247.1 94.2 L253.5 94.2 L253.5 102.3 L257.8 102.3 L257.8 110.3 L273.8 110.3 L273.8 96.7 L278.5 96.7 L278.5 73.2 L283.4 73.2 L283.4 93.6 L287 93.6 L287 72 L291.9 72 L291.9 76.3 L296.2 76.3 L296.2 65.8 L301.6 65.8 L301.6 72 L305.4 72 L305.4 98.5 L309.7 98.5 L309.7 110.3 L313.3 110.3 L313.3 110.3 L380.6 110.3" fill="none" stroke="#22308c" stroke-width="1.35" stroke-opacity="0.82" stroke-linejoin="round"/><line x1="69.3" y1="28.299999999999997" x2="69.3" y2="112.8" stroke="#4a4a4a" stroke-width="1"/><line x1="66.3" y1="110.3" x2="384.2" y2="110.3" stroke="#4a4a4a" stroke-width="1" stroke-opacity="0.75"/><path d="M387.2 110.3 l-5.5 -2.6 v5.2z" fill="#8a1c1c"/><path d="M69.3 25.799999999999997 l-2.4 4.6 h4.8z" fill="#8a1c1c"/><text x="62.2" y="51.5" font-size="10.1" text-anchor="end" fill="#222">1.0 M</text><text x="62.2" y="113.3" font-size="10.1" text-anchor="end" fill="#222">0.0</text><text x="85.2" y="126.6" font-size="10.1" text-anchor="middle" fill="#222">06:00</text><text x="188.7" y="126.6" font-size="10.1" text-anchor="middle" fill="#222">08:00</text><text x="291.9" y="126.6" font-size="10.1" text-anchor="middle" fill="#222">10:00</text><text x="221.2" y="20.9" font-size="13.7" text-anchor="middle" fill="#222">n20 network traffic last 6 hours</text><text transform="translate(18.6,71.5) rotate(-90)" font-size="11.8" text-anchor="middle" fill="#222">bytes per second</text><rect x="16.3" y="135.8" width="8.6" height="8.6" fill="#00a800" stroke="#333" stroke-width="0.9"/><text x="30.9" y="144.1" font-size="11.7" fill="#222">inbound</text><rect x="99.6" y="135.8" width="8.6" height="8.6" fill="#00007a" stroke="#333" stroke-width="0.9"/><text x="114.19999999999999" y="144.1" font-size="11.7" fill="#222">outbound</text><text transform="translate(397.6,7) rotate(90)" font-size="6.3" fill="#cfcfcf" style="stroke:none" font-family="Liberation Sans, sans-serif" textLength="113" lengthAdjust="spacingAndGlyphs">RRDTOOL / TOBI OETIKER</text></g></svg>
</div></div>
<div class="a" style="left:-10px;top:826.8px;width:767px;height:2.6px;background:#e4e1d8"></div>
<div class="t " style="left:99.5px;top:843.5px;font-size:13.6px;color:#222;">Show detail graphs:</div>
<svg class="a" style="left:213.5px;top:844.2px" width="16" height="16"><circle cx="8" cy="8" r="5.3" fill="#f3f4f2" stroke="#7f9bbb" stroke-width="1.5"/><circle cx="8" cy="8" r="2.7" fill="#35bd35"/></svg>
<div class="t " style="left:231.5px;top:843.5px;font-size:13.6px;color:#222;">yes</div>
<svg class="a" style="left:254.3px;top:844.2px" width="16" height="16"><circle cx="8" cy="8" r="5.3" fill="#f3f4f2" stroke="#7f9bbb" stroke-width="1.5"/></svg>
<div class="t " style="left:272px;top:843.5px;font-size:13.6px;color:#222;">no</div>
<div class="a" style="left:290.6px;top:846.5px;width:1.2px;height:15.5px;background:#9c9cc0"></div>
<div class="t " style="left:358px;top:843.5px;font-size:13.6px;color:#222;">last</div>
<div class="t b" style="left:382px;top:842.5px;font-size:16px;">6 hours</div>
<div class="t " style="left:436.5px;top:843.5px;font-size:14.2px;letter-spacing:-0.2px;color:#222;">sorted</div>
<div class="t b" style="left:476.5px;top:842.5px;font-size:16px;">by hostname</div>
<div class="a" style="left:568px;top:845px;width:1px;height:16px;background:#c9c5bb"></div>
<div class="t " style="left:574.5px;top:842.5px;font-size:16px;letter-spacing:-0.55px;">Columns</div>
<div class="sel" style="left:641px;top:839.5px;width:43.5px;height:22.5px;font-size:14px;line-height:20.5px;letter-spacing:0px"><span style="left:7px">3</span><i><svg width="9" height="6" viewBox="0 0 9 6"><path d="M1 1 L4.5 4.5 L8 1" fill="none" stroke="#4a5f8a" stroke-width="1.7"/></svg></i></div>
<div class="a" style="left:5.5px;top:872.3px;width:777px;height:2.6px;background:#e4e1d8"></div>
<div class="a" style="left:36px;top:881.5px;width:736.4px;height:472.8px;box-sizing:border-box;border-style:solid;border-width:3px 2.8px 3px 3.5px;border-color:#f7f5ec #d6d3ca #d6d3ca #f7f5ec;background:#fff"></div>
<svg class="g" style="left:39px;top:884px" width="242" height="116"><g transform="translate(0.50,0.40)"><rect x="0" y="0" width="240.5" height="113.8" fill="#2e2ee8"/><rect x="3.1" y="3.1" width="234.3" height="107.6" fill="#f0f0f0"/><path d="M3.1 110.10000000000001 L236.8 110.10000000000001 L236.8 3.1" fill="none" stroke="#a5a5a5" stroke-width="1.2"/><path d="M3.7 110.7 L3.7 3.7 L237.4 3.7" fill="none" stroke="#d8d8d8" stroke-width="1.2"/><rect x="72.3" y="35.9" width="135.3" height="42.300000000000004" fill="#fff"/><path d="M102.9 48.2 L104.9 48.2 L105.4 78.2 L102.4 78.2Z" fill="#b013f5" fill-opacity="0.38"/><path d="M127 44.9 L129.4 44.9 L129.9 78.2 L126.5 78.2Z" fill="#b013f5" fill-opacity="0.38"/><path d="M130.4 50.1 L133 50.1 L133.5 78.2 L129.9 78.2Z" fill="#b013f5" fill-opacity="0.38"/><path d="M166.2 46.5 L168.2 46.5 L168.7 78.2 L165.7 78.2Z" fill="#b013f5" fill-opacity="0.38"/><path d="M72.6 77.5 L100.1 77.5 L100.8 65.1 L102.1 65.1 L102.8 55.4 L105.1 55.4 L105.8 47.2 L107.7 47.2 L108.4 68.4 L109.5 68.4 L110.2 45.6 L112.1 45.6 L112.8 74.9 L114.1 74.9 L114.8 77.5 L121.1 77.5 L121.8 55.4 L124.2 55.4 L124.9 63.5 L126.2 63.5 L126.9 47.2 L129.6 47.2 L130.3 55.4 L133.2 55.4 L133.9 61.9 L139.2 61.9 L139.9 57 L143.2 57 L143.9 68.4 L145.2 68.4 L145.9 67.4 L150.3 67.4 L151 74.9 L153.3 74.9 L154 77.5 L160.3 77.5 L161 53.7 L163.3 53.7 L164 65.1 L165.3 65.1 L166 50.5 L168.3 50.5 L169 47.2 L172.4 47.2 L173.1 55.4 L174.4 55.4 L175.1 73.3 L176.4 73.3 L177.1 77.5 L205.5 77.5 L205.8 78.2 L72.3 78.2Z" fill="#b013f5"/><line x1="78.9" y1="35.4" x2="78.9" y2="79.7" stroke="#e05050" stroke-width="0.9" stroke-opacity="0.38"/><line x1="90.2" y1="35.4" x2="90.2" y2="79.7" stroke="#909090" stroke-width="0.9" stroke-opacity="0.2"/><line x1="101.5" y1="35.4" x2="101.5" y2="79.7" stroke="#909090" stroke-width="0.9" stroke-opacity="0.2"/><line x1="112.7" y1="35.4" x2="112.7" y2="79.7" stroke="#909090" stroke-width="0.9" stroke-opacity="0.2"/><line x1="124" y1="35.4" x2="124" y2="79.7" stroke="#e05050" stroke-width="0.9" stroke-opacity="0.38"/><line x1="135.3" y1="35.4" x2="135.3" y2="79.7" stroke="#909090" stroke-width="0.9" stroke-opacity="0.2"/><line x1="146.6" y1="35.4" x2="146.6" y2="79.7" stroke="#909090" stroke-width="0.9" stroke-opacity="0.2"/><line x1="157.9" y1="35.4" x2="157.9" y2="79.7" stroke="#909090" stroke-width="0.9" stroke-opacity="0.2"/><line x1="169.1" y1="35.4" x2="169.1" y2="79.7" stroke="#e05050" stroke-width="0.9" stroke-opacity="0.38"/><line x1="180.4" y1="35.4" x2="180.4" y2="79.7" stroke="#909090" stroke-width="0.9" stroke-opacity="0.2"/><line x1="191.7" y1="35.4" x2="191.7" y2="79.7" stroke="#909090" stroke-width="0.9" stroke-opacity="0.2"/><line x1="203" y1="35.4" x2="203" y2="79.7" stroke="#909090" stroke-width="0.9" stroke-opacity="0.2"/><line x1="70.8" y1="61.9" x2="209.1" y2="61.9" stroke="#909090" stroke-width="0.9" stroke-opacity="0.2"/><line x1="70.8" y1="45.6" x2="209.1" y2="45.6" stroke="#e05050" stroke-width="0.9" stroke-opacity="0.38"/><line x1="71.89999999999999" y1="31.9" x2="71.89999999999999" y2="80.7" stroke="#8a8a8a" stroke-width="1.9" stroke-opacity="0.75"/><line x1="69.3" y1="78.2" x2="210.5" y2="78.2" stroke="#6a5a5a" stroke-width="1" stroke-opacity="0.55"/><path d="M213.5 78.2 l-5 -2.4 v4.8z" fill="#8a1c1c"/><path d="M72.3 29.4 l-2.2 4.2 h4.4z" fill="#8a1c1c"/><text x="65.4" y="49" font-size="10" text-anchor="end" fill="#222">1.0 M</text><text x="65.4" y="81.6" font-size="10" text-anchor="end" fill="#222">0.0</text><text x="78.4" y="93.7" font-size="10" text-anchor="middle" fill="#222">06:00</text><text x="123.4" y="93.7" font-size="10" text-anchor="middle" fill="#222">08:00</text><text x="168.6" y="93.7" font-size="10" text-anchor="middle" fill="#222">10:00</text><text x="120.0" y="24.0" font-size="13.75" text-anchor="middle" fill="#222">n20 bytes in</text><text transform="translate(21.2,57.8) rotate(-90)" font-size="12" text-anchor="middle" fill="#222">bytes/sec</text><text transform="translate(225.3,9) rotate(90)" font-size="6.6" fill="#cdcdcd" style="stroke:none" font-family="Liberation Sans, sans-serif" textLength="100" lengthAdjust="spacingAndGlyphs">RRDTOOL / TOBI OETIKER</text></g></svg>
<svg class="g" style="left:282px;top:884px" width="243" height="116"><g transform="translate(0.90,0.40)"><rect x="0" y="0" width="240.5" height="113.8" fill="#2e2ee8"/><rect x="3.1" y="3.1" width="234.3" height="107.6" fill="#f0f0f0"/><path d="M3.1 110.10000000000001 L236.8 110.10000000000001 L236.8 3.1" fill="none" stroke="#a5a5a5" stroke-width="1.2"/><path d="M3.7 110.7 L3.7 3.7 L237.4 3.7" fill="none" stroke="#d8d8d8" stroke-width="1.2"/><rect x="72.3" y="36.8" width="135.3" height="41.400000000000006" fill="#fff"/><path d="M103.7 41.5 L106.3 41.5 L106.8 78.2 L103.2 78.2Z" fill="#2233f5" fill-opacity="0.38"/><path d="M107.3 40.9 L108.7 40.9 L109.2 78.2 L106.8 78.2Z" fill="#2233f5" fill-opacity="0.38"/><path d="M161.6 45.1 L163.6 45.1 L164.1 78.2 L161.1 78.2Z" fill="#2233f5" fill-opacity="0.38"/><path d="M164.6 42.5 L166.6 42.5 L167.1 78.2 L164.1 78.2Z" fill="#2233f5" fill-opacity="0.38"/><path d="M72.6 77.8 L100.5 77.8 L101.2 62.7 L102.9 62.7 L103.6 47.1 L106.5 47.1 L107.2 43 L108.9 43 L109.6 65.3 L110.5 65.3 L111.2 42 L112.5 42 L113.2 75.6 L114.5 75.6 L115.2 77.8 L121.5 77.8 L122.2 62.7 L123.6 62.7 L124.3 52.3 L126.2 52.3 L126.9 42 L128.6 42 L129.3 57.5 L131 57.5 L131.7 48.7 L133.6 48.7 L134.3 56.5 L135.6 56.5 L136.3 58 L139.6 58 L140.3 49.7 L142.6 49.7 L143.3 66.3 L145.6 66.3 L146.3 64.2 L150.3 64.2 L151 73 L152.7 73 L153.4 77.8 L160.7 77.8 L161.4 62.7 L163.7 62.7 L164.4 47.1 L166.7 47.1 L167.4 45.1 L169.7 45.1 L170.4 42 L172.8 42 L173.5 65.3 L174.8 65.3 L175.5 75.6 L176.8 75.6 L177.5 77.8 L205.9 77.8 L206.2 78.2 L72.3 78.2Z" fill="#2233f5"/><line x1="78.9" y1="36.3" x2="78.9" y2="79.7" stroke="#e05050" stroke-width="0.9" stroke-opacity="0.38"/><line x1="90.2" y1="36.3" x2="90.2" y2="79.7" stroke="#909090" stroke-width="0.9" stroke-opacity="0.2"/><line x1="101.5" y1="36.3" x2="101.5" y2="79.7" stroke="#909090" stroke-width="0.9" stroke-opacity="0.2"/><line x1="112.7" y1="36.3" x2="112.7" y2="79.7" stroke="#909090" stroke-width="0.9" stroke-opacity="0.2"/><line x1="124" y1="36.3" x2="124" y2="79.7" stroke="#e05050" stroke-width="0.9" stroke-opacity="0.38"/><line x1="135.3" y1="36.3" x2="135.3" y2="79.7" stroke="#909090" stroke-width="0.9" stroke-opacity="0.2"/><line x1="146.6" y1="36.3" x2="146.6" y2="79.7" stroke="#909090" stroke-width="0.9" stroke-opacity="0.2"/><line x1="157.9" y1="36.3" x2="157.9" y2="79.7" stroke="#909090" stroke-width="0.9" stroke-opacity="0.2"/><line x1="169.1" y1="36.3" x2="169.1" y2="79.7" stroke="#e05050" stroke-width="0.9" stroke-opacity="0.38"/><line x1="180.4" y1="36.3" x2="180.4" y2="79.7" stroke="#909090" stroke-width="0.9" stroke-opacity="0.2"/><line x1="191.7" y1="36.3" x2="191.7" y2="79.7" stroke="#909090" stroke-width="0.9" stroke-opacity="0.2"/><line x1="203" y1="36.3" x2="203" y2="79.7" stroke="#909090" stroke-width="0.9" stroke-opacity="0.2"/><line x1="70.8" y1="67.8" x2="209.1" y2="67.8" stroke="#909090" stroke-width="0.9" stroke-opacity="0.2"/><line x1="70.8" y1="57.5" x2="209.1" y2="57.5" stroke="#909090" stroke-width="0.9" stroke-opacity="0.2"/><line x1="70.8" y1="47.1" x2="209.1" y2="47.1" stroke="#909090" stroke-width="0.9" stroke-opacity="0.2"/><line x1="70.8" y1="36.8" x2="209.1" y2="36.8" stroke="#e05050" stroke-width="0.9" stroke-opacity="0.38"/><line x1="71.89999999999999" y1="32.8" x2="71.89999999999999" y2="80.7" stroke="#8a8a8a" stroke-width="1.9" stroke-opacity="0.75"/><line x1="69.3" y1="78.2" x2="210.5" y2="78.2" stroke="#6a5a5a" stroke-width="1" stroke-opacity="0.55"/><path d="M213.5 78.2 l-5 -2.4 v4.8z" fill="#8a1c1c"/><path d="M72.3 30.299999999999997 l-2.2 4.2 h4.4z" fill="#8a1c1c"/><text x="65.4" y="40.2" font-size="10" text-anchor="end" fill="#222">800 k</text><text x="65.4" y="81.6" font-size="10" text-anchor="end" fill="#222">0</text><text x="78.4" y="93.7" font-size="10" text-anchor="middle" fill="#222">06:00</text><text x="123.4" y="93.7" font-size="10" text-anchor="middle" fill="#222">08:00</text><text x="168.6" y="93.7" font-size="10" text-anchor="middle" fill="#222">10:00</text><text x="120.0" y="24.0" font-size="13.75" text-anchor="middle" fill="#222">n20 bytes out</text><text transform="translate(21.2,57.8) rotate(-90)" font-size="12" text-anchor="middle" fill="#222">bytes/sec</text><text transform="translate(225.3,9) rotate(90)" font-size="6.6" fill="#cdcdcd" style="stroke:none" font-family="Liberation Sans, sans-serif" textLength="100" lengthAdjust="spacingAndGlyphs">RRDTOOL / TOBI OETIKER</text></g></svg>
<svg class="g" style="left:526px;top:884px" width="242" height="116"><g transform="translate(0.30,0.40)"><rect x="0" y="0" width="240.5" height="113.8" fill="#2e2ee8"/><rect x="3.1" y="3.1" width="234.3" height="107.6" fill="#f0f0f0"/><path d="M3.1 110.10000000000001 L236.8 110.10000000000001 L236.8 3.1" fill="none" stroke="#a5a5a5" stroke-width="1.2"/><path d="M3.7 110.7 L3.7 3.7 L237.4 3.7" fill="none" stroke="#d8d8d8" stroke-width="1.2"/><rect x="72.3" y="36.8" width="135.3" height="41.400000000000006" fill="#fff"/><path d="M72.6 36.8 L99.5 36.8 L100.2 43 L102.5 43 L103.2 57.5 L110.5 57.5 L111.2 53.4 L115.5 53.4 L116.2 47.1 L117.5 47.1 L118.2 40.1 L119.5 40.1 L120.2 49.2 L120.9 49.2 L121.6 57.5 L124.6 57.5 L125.3 53.4 L129.6 53.4 L130.3 59.6 L132.6 59.6 L133.3 41.8 L135.6 41.8 L136.3 61.6 L138.6 61.6 L139.3 49.2 L142.6 49.2 L143.3 55.4 L146.6 55.4 L147.3 53.4 L150.7 53.4 L151.4 36.8 L158.7 36.8 L159.4 49.2 L162.7 49.2 L163.4 57.5 L166.7 57.5 L167.4 40.9 L169.7 40.9 L170.4 57.5 L174.8 57.5 L175.5 61.6 L178.8 61.6 L179.5 65.8 L181.8 65.8 L182.5 67.8 L203.3 67.8 L203.6 78.2 L72.3 78.2Z" fill="#e1f1fc"/><line x1="78.9" y1="36.3" x2="78.9" y2="79.7" stroke="#e05050" stroke-width="0.9" stroke-opacity="0.38"/><line x1="90.2" y1="36.3" x2="90.2" y2="79.7" stroke="#909090" stroke-width="0.9" stroke-opacity="0.24"/><line x1="101.5" y1="36.3" x2="101.5" y2="79.7" stroke="#909090" stroke-width="0.9" stroke-opacity="0.24"/><line x1="112.7" y1="36.3" x2="112.7" y2="79.7" stroke="#909090" stroke-width="0.9" stroke-opacity="0.24"/><line x1="124" y1="36.3" x2="124" y2="79.7" stroke="#e05050" stroke-width="0.9" stroke-opacity="0.38"/><line x1="135.3" y1="36.3" x2="135.3" y2="79.7" stroke="#909090" stroke-width="0.9" stroke-opacity="0.24"/><line x1="146.6" y1="36.3" x2="146.6" y2="79.7" stroke="#909090" stroke-width="0.9" stroke-opacity="0.24"/><line x1="157.9" y1="36.3" x2="157.9" y2="79.7" stroke="#909090" stroke-width="0.9" stroke-opacity="0.24"/><line x1="169.1" y1="36.3" x2="169.1" y2="79.7" stroke="#e05050" stroke-width="0.9" stroke-opacity="0.38"/><line x1="180.4" y1="36.3" x2="180.4" y2="79.7" stroke="#909090" stroke-width="0.9" stroke-opacity="0.24"/><line x1="191.7" y1="36.3" x2="191.7" y2="79.7" stroke="#909090" stroke-width="0.9" stroke-opacity="0.24"/><line x1="203" y1="36.3" x2="203" y2="79.7" stroke="#909090" stroke-width="0.9" stroke-opacity="0.24"/><line x1="70.8" y1="69.9" x2="209.1" y2="69.9" stroke="#909090" stroke-width="0.9" stroke-opacity="0.24"/><line x1="70.8" y1="61.6" x2="209.1" y2="61.6" stroke="#909090" stroke-width="0.9" stroke-opacity="0.24"/><line x1="70.8" y1="53.4" x2="209.1" y2="53.4" stroke="#909090" stroke-width="0.9" stroke-opacity="0.24"/><line x1="70.8" y1="45.1" x2="209.1" y2="45.1" stroke="#909090" stroke-width="0.9" stroke-opacity="0.24"/><line x1="70.8" y1="36.8" x2="209.1" y2="36.8" stroke="#e05050" stroke-width="0.9" stroke-opacity="0.38"/><line x1="71.89999999999999" y1="32.8" x2="71.89999999999999" y2="80.7" stroke="#8a8a8a" stroke-width="1.9" stroke-opacity="0.75"/><line x1="69.3" y1="78.2" x2="210.5" y2="78.2" stroke="#6a5a5a" stroke-width="1" stroke-opacity="0.55"/><path d="M213.5 78.2 l-5 -2.4 v4.8z" fill="#8a1c1c"/><path d="M72.3 30.299999999999997 l-2.2 4.2 h4.4z" fill="#8a1c1c"/><text x="65.4" y="40.2" font-size="10" text-anchor="end" fill="#222">100</text><text x="65.4" y="81.6" font-size="10" text-anchor="end" fill="#222">0</text><text x="78.4" y="93.7" font-size="10" text-anchor="middle" fill="#222">06:00</text><text x="123.4" y="93.7" font-size="10" text-anchor="middle" fill="#222">08:00</text><text x="168.6" y="93.7" font-size="10" text-anchor="middle" fill="#222">10:00</text><text x="120.0" y="24.0" font-size="13.75" text-anchor="middle" fill="#222">n20 cpu idle</text><text transform="translate(21.2,57.8) rotate(-90)" font-size="12" text-anchor="middle" fill="#222">% cpu</text><text transform="translate(225.3,9) rotate(90)" font-size="6.6" fill="#cdcdcd" style="stroke:none" font-family="Liberation Sans, sans-serif" textLength="100" lengthAdjust="spacingAndGlyphs">RRDTOOL / TOBI OETIKER</text></g></svg>
<svg class="g" style="left:39px;top:1000px" width="242" height="116"><g transform="translate(0.50,0.80)"><rect x="0" y="0" width="240.5" height="113.8" fill="#2e2ee8"/><rect x="3.1" y="3.1" width="234.3" height="107.6" fill="#f0f0f0"/><path d="M3.1 110.10000000000001 L236.8 110.10000000000001 L236.8 3.1" fill="none" stroke="#a5a5a5" stroke-width="1.2"/><path d="M3.7 110.7 L3.7 3.7 L237.4 3.7" fill="none" stroke="#d8d8d8" stroke-width="1.2"/><rect x="72.3" y="36.8" width="135.3" height="41.400000000000006" fill="#fff"/><path d="M110.5 65.8 L111.9 65.8 L111.9 52.5 L114.5 52.5 L114.5 65.8 L115.9 65.8 L115.9 78.2 L110.5 78.2Z" fill="#a846dc" fill-opacity="0.3"/><path d="M72.3 78.2 L99.8 78.2 L99.8 77 L105.8 77 L105.8 78.2 L110.5 78.2 L110.5 65 L112.9 65 L112.9 65.8 L115.9 65.8 L115.9 74.9 L118.5 74.9 L118.5 78.2 L123.9 78.2 L123.9 77 L143 77 L143 78 L162.1 78 L162.1 77 L171.1 77 L171.1 69.9 L174.1 69.9 L174.1 60.4 L178.1 60.4 L178.1 73.2 L180.7 73.2 L180.7 78.2 L205.2 78.2 L205.2 78.2 L72.3 78.2Z" fill="#a846dc"/><line x1="78.9" y1="36.3" x2="78.9" y2="79.7" stroke="#e05050" stroke-width="0.9" stroke-opacity="0.38"/><line x1="90.2" y1="36.3" x2="90.2" y2="79.7" stroke="#909090" stroke-width="0.9" stroke-opacity="0.2"/><line x1="101.5" y1="36.3" x2="101.5" y2="79.7" stroke="#909090" stroke-width="0.9" stroke-opacity="0.2"/><line x1="112.7" y1="36.3" x2="112.7" y2="79.7" stroke="#909090" stroke-width="0.9" stroke-opacity="0.2"/><line x1="124" y1="36.3" x2="124" y2="79.7" stroke="#e05050" stroke-width="0.9" stroke-opacity="0.38"/><line x1="135.3" y1="36.3" x2="135.3" y2="79.7" stroke="#909090" stroke-width="0.9" stroke-opacity="0.2"/><line x1="146.6" y1="36.3" x2="146.6" y2="79.7" stroke="#909090" stroke-width="0.9" stroke-opacity="0.2"/><line x1="157.9" y1="36.3" x2="157.9" y2="79.7" stroke="#909090" stroke-width="0.9" stroke-opacity="0.2"/><line x1="169.1" y1="36.3" x2="169.1" y2="79.7" stroke="#e05050" stroke-width="0.9" stroke-opacity="0.38"/><line x1="180.4" y1="36.3" x2="180.4" y2="79.7" stroke="#909090" stroke-width="0.9" stroke-opacity="0.2"/><line x1="191.7" y1="36.3" x2="191.7" y2="79.7" stroke="#909090" stroke-width="0.9" stroke-opacity="0.2"/><line x1="203" y1="36.3" x2="203" y2="79.7" stroke="#909090" stroke-width="0.9" stroke-opacity="0.2"/><line x1="70.8" y1="69.9" x2="209.1" y2="69.9" stroke="#909090" stroke-width="0.9" stroke-opacity="0.2"/><line x1="70.8" y1="61.6" x2="209.1" y2="61.6" stroke="#909090" stroke-width="0.9" stroke-opacity="0.2"/><line x1="70.8" y1="53.4" x2="209.1" y2="53.4" stroke="#909090" stroke-width="0.9" stroke-opacity="0.2"/><line x1="70.8" y1="45.1" x2="209.1" y2="45.1" stroke="#909090" stroke-width="0.9" stroke-opacity="0.2"/><line x1="70.8" y1="36.8" x2="209.1" y2="36.8" stroke="#e05050" stroke-width="0.9" stroke-opacity="0.38"/><line x1="71.89999999999999" y1="32.8" x2="71.89999999999999" y2="80.7" stroke="#8a8a8a" stroke-width="1.9" stroke-opacity="0.75"/><line x1="69.3" y1="78.2" x2="210.5" y2="78.2" stroke="#6a5a5a" stroke-width="1" stroke-opacity="0.55"/><path d="M213.5 78.2 l-5 -2.4 v4.8z" fill="#8a1c1c"/><path d="M72.3 30.299999999999997 l-2.2 4.2 h4.4z" fill="#8a1c1c"/><text x="65.4" y="40.2" font-size="10" text-anchor="end" fill="#222">100</text><text x="65.4" y="81.6" font-size="10" text-anchor="end" fill="#222">0</text><text x="78.4" y="93.7" font-size="10" text-anchor="middle" fill="#222">06:00</text><text x="123.4" y="93.7" font-size="10" text-anchor="middle" fill="#222">08:00</text><text x="168.6" y="93.7" font-size="10" text-anchor="middle" fill="#222">10:00</text><text x="120.0" y="24.0" font-size="13.75" text-anchor="middle" fill="#222">n20 cpu iowait</text><text transform="translate(21.2,57.8) rotate(-90)" font-size="12" text-anchor="middle" fill="#222">% cpu</text><text transform="translate(225.3,9) rotate(90)" font-size="6.6" fill="#cdcdcd" style="stroke:none" font-family="Liberation Sans, sans-serif" textLength="100" lengthAdjust="spacingAndGlyphs">RRDTOOL / TOBI OETIKER</text></g></svg>
<svg class="g" style="left:282px;top:1000px" width="243" height="116"><g transform="translate(0.90,0.80)"><rect x="0" y="0" width="240.5" height="113.8" fill="#2e2ee8"/><rect x="3.1" y="3.1" width="234.3" height="107.6" fill="#f0f0f0"/><path d="M3.1 110.10000000000001 L236.8 110.10000000000001 L236.8 3.1" fill="none" stroke="#a5a5a5" stroke-width="1.2"/><path d="M3.7 110.7 L3.7 3.7 L237.4 3.7" fill="none" stroke="#d8d8d8" stroke-width="1.2"/><rect x="72.3" y="36.8" width="135.3" height="41.400000000000006" fill="#fff"/><path d="M123.8 60 L124.8 60 L125.3 78.2 L123.3 78.2Z" fill="#ffe70a" fill-opacity="0.38"/><path d="M129.4 57.5 L132.4 57.5 L132.9 78.2 L128.9 78.2Z" fill="#ffe70a" fill-opacity="0.38"/><path d="M138.5 56.7 L140.5 56.7 L141 78.2 L138 78.2Z" fill="#ffe70a" fill-opacity="0.38"/><path d="M162.6 58.7 L166.6 58.7 L167.1 78.2 L162.1 78.2Z" fill="#ffe70a" fill-opacity="0.38"/><path d="M72.6 78.2 L98.9 78.2 L99.6 67.8 L101.5 67.8 L102.2 63.7 L104.5 63.7 L105.2 65 L106.5 65 L107.2 62.9 L111.5 62.9 L112.2 76.1 L113.5 76.1 L114.2 77.8 L120.5 77.8 L121.2 74.1 L123 74.1 L123.7 62.5 L125 62.5 L125.7 74.9 L128.6 74.9 L129.3 65.8 L132.6 65.8 L133.3 67.8 L137.6 67.8 L138.3 59.6 L140.6 59.6 L141.3 69.1 L143 69.1 L143.7 62.5 L149.1 62.5 L149.8 74.1 L151.1 74.1 L151.8 78.2 L159.1 78.2 L159.8 72 L161.7 72 L162.4 65 L166.7 65 L167.4 66.6 L171.7 66.6 L172.4 72 L174.8 72 L175.5 74.1 L178.4 74.1 L179.1 55.4 L181.8 55.4 L182.5 52.1 L202.5 52.1 L203.2 78.2 L204.9 78.2 L205.2 78.2 L72.3 78.2Z" fill="#ffe70a"/><line x1="78.9" y1="36.3" x2="78.9" y2="79.7" stroke="#e05050" stroke-width="0.9" stroke-opacity="0.38"/><line x1="90.2" y1="36.3" x2="90.2" y2="79.7" stroke="#909090" stroke-width="0.9" stroke-opacity="0.2"/><line x1="101.5" y1="36.3" x2="101.5" y2="79.7" stroke="#909090" stroke-width="0.9" stroke-opacity="0.2"/><line x1="112.7" y1="36.3" x2="112.7" y2="79.7" stroke="#909090" stroke-width="0.9" stroke-opacity="0.2"/><line x1="124" y1="36.3" x2="124" y2="79.7" stroke="#e05050" stroke-width="0.9" stroke-opacity="0.38"/><line x1="135.3" y1="36.3" x2="135.3" y2="79.7" stroke="#909090" stroke-width="0.9" stroke-opacity="0.2"/><line x1="146.6" y1="36.3" x2="146.6" y2="79.7" stroke="#909090" stroke-width="0.9" stroke-opacity="0.2"/><line x1="157.9" y1="36.3" x2="157.9" y2="79.7" stroke="#909090" stroke-width="0.9" stroke-opacity="0.2"/><line x1="169.1" y1="36.3" x2="169.1" y2="79.7" stroke="#e05050" stroke-width="0.9" stroke-opacity="0.38"/><line x1="180.4" y1="36.3" x2="180.4" y2="79.7" stroke="#909090" stroke-width="0.9" stroke-opacity="0.2"/><line x1="191.7" y1="36.3" x2="191.7" y2="79.7" stroke="#909090" stroke-width="0.9" stroke-opacity="0.2"/><line x1="203" y1="36.3" x2="203" y2="79.7" stroke="#909090" stroke-width="0.9" stroke-opacity="0.2"/><line x1="70.8" y1="69.9" x2="209.1" y2="69.9" stroke="#909090" stroke-width="0.9" stroke-opacity="0.2"/><line x1="70.8" y1="61.6" x2="209.1" y2="61.6" stroke="#909090" stroke-width="0.9" stroke-opacity="0.2"/><line x1="70.8" y1="53.4" x2="209.1" y2="53.4" stroke="#909090" stroke-width="0.9" stroke-opacity="0.2"/><line x1="70.8" y1="45.1" x2="209.1" y2="45.1" stroke="#909090" stroke-width="0.9" stroke-opacity="0.2"/><line x1="70.8" y1="36.8" x2="209.1" y2="36.8" stroke="#e05050" stroke-width="0.9" stroke-opacity="0.38"/><line x1="71.89999999999999" y1="32.8" x2="71.89999999999999" y2="80.7" stroke="#8a8a8a" stroke-width="1.9" stroke-opacity="0.75"/><line x1="69.3" y1="78.2" x2="210.5" y2="78.2" stroke="#6a5a5a" stroke-width="1" stroke-opacity="0.55"/><path d="M213.5 78.2 l-5 -2.4 v4.8z" fill="#8a1c1c"/><path d="M72.3 30.299999999999997 l-2.2 4.2 h4.4z" fill="#8a1c1c"/><text x="65.4" y="40.2" font-size="10" text-anchor="end" fill="#222">100</text><text x="65.4" y="81.6" font-size="10" text-anchor="end" fill="#222">0</text><text x="78.4" y="93.7" font-size="10" text-anchor="middle" fill="#222">06:00</text><text x="123.4" y="93.7" font-size="10" text-anchor="middle" fill="#222">08:00</text><text x="168.6" y="93.7" font-size="10" text-anchor="middle" fill="#222">10:00</text><text x="120.0" y="24.0" font-size="13.75" text-anchor="middle" fill="#222">n20 cpu system</text><text transform="translate(21.2,57.8) rotate(-90)" font-size="12" text-anchor="middle" fill="#222">% cpu</text><text transform="translate(225.3,9) rotate(90)" font-size="6.6" fill="#cdcdcd" style="stroke:none" font-family="Liberation Sans, sans-serif" textLength="100" lengthAdjust="spacingAndGlyphs">RRDTOOL / TOBI OETIKER</text></g></svg>
<svg class="g" style="left:526px;top:1000px" width="242" height="116"><g transform="translate(0.30,0.80)"><rect x="0" y="0" width="240.5" height="113.8" fill="#2e2ee8"/><rect x="3.1" y="3.1" width="234.3" height="107.6" fill="#f0f0f0"/><path d="M3.1 110.10000000000001 L236.8 110.10000000000001 L236.8 3.1" fill="none" stroke="#a5a5a5" stroke-width="1.2"/><path d="M3.7 110.7 L3.7 3.7 L237.4 3.7" fill="none" stroke="#d8d8d8" stroke-width="1.2"/><rect x="72.3" y="36.8" width="135.3" height="41.400000000000006" fill="#fff"/><rect x="72.3" y="36.8" width="132.5" height="41.4" fill="#e1f1fc"/><path d="M106.3 52.1 L110 52.1 L110.5 78.2 L105.8 78.2Z" fill="#6b6b03" fill-opacity="0.38"/><path d="M121.8 54.2 L124 54.2 L124.5 78.2 L121.3 78.2Z" fill="#6b6b03" fill-opacity="0.38"/><path d="M132.4 49.6 L135.5 49.6 L136 78.2 L131.9 78.2Z" fill="#6b6b03" fill-opacity="0.38"/><path d="M136.5 55 L139.5 55 L140 78.2 L136 78.2Z" fill="#6b6b03" fill-opacity="0.38"/><path d="M145.1 55 L148.1 55 L148.6 78.2 L144.6 78.2Z" fill="#6b6b03" fill-opacity="0.38"/><path d="M162 50.9 L165.6 50.9 L166.1 78.2 L161.5 78.2Z" fill="#6b6b03" fill-opacity="0.38"/><path d="M169.2 51.7 L170.6 51.7 L171.1 78.2 L168.7 78.2Z" fill="#6b6b03" fill-opacity="0.38"/><path d="M72.6 78.2 L98.1 78.2 L98.8 69.9 L100.5 69.9 L101.2 60.8 L105.5 60.8 L106.2 57.5 L110.1 57.5 L110.8 62.5 L113.5 62.5 L114.2 67.8 L116.5 67.8 L117.2 74.1 L120.9 74.1 L121.6 59.2 L124.2 59.2 L124.9 63.7 L128.6 63.7 L129.3 57.5 L131.6 57.5 L132.3 59.6 L135.6 59.6 L136.3 57.5 L139.6 57.5 L140.3 63.7 L144.2 63.7 L144.9 57.5 L148.3 57.5 L149 67.8 L151.1 67.8 L151.8 76.1 L153.1 76.1 L153.8 78.2 L158.3 78.2 L159 72 L161.1 72 L161.8 60.8 L165.7 60.8 L166.4 62.5 L168.3 62.5 L169 53.4 L170.7 53.4 L171.4 65.8 L173.8 65.8 L174.5 60.8 L176.8 60.8 L177.5 55.4 L178.8 55.4 L179.5 50.9 L181.2 50.9 L181.9 48 L204.5 48 L205.2 78.2 L206.9 78.2 L207.2 78.2 L72.3 78.2Z" fill="#6b6b03"/><line x1="78.9" y1="36.3" x2="78.9" y2="79.7" stroke="#e05050" stroke-width="0.9" stroke-opacity="0.38"/><line x1="90.2" y1="36.3" x2="90.2" y2="79.7" stroke="#909090" stroke-width="0.9" stroke-opacity="0.26"/><line x1="101.5" y1="36.3" x2="101.5" y2="79.7" stroke="#909090" stroke-width="0.9" stroke-opacity="0.26"/><line x1="112.7" y1="36.3" x2="112.7" y2="79.7" stroke="#909090" stroke-width="0.9" stroke-opacity="0.26"/><line x1="124" y1="36.3" x2="124" y2="79.7" stroke="#e05050" stroke-width="0.9" stroke-opacity="0.38"/><line x1="135.3" y1="36.3" x2="135.3" y2="79.7" stroke="#909090" stroke-width="0.9" stroke-opacity="0.26"/><line x1="146.6" y1="36.3" x2="146.6" y2="79.7" stroke="#909090" stroke-width="0.9" stroke-opacity="0.26"/><line x1="157.9" y1="36.3" x2="157.9" y2="79.7" stroke="#909090" stroke-width="0.9" stroke-opacity="0.26"/><line x1="169.1" y1="36.3" x2="169.1" y2="79.7" stroke="#e05050" stroke-width="0.9" stroke-opacity="0.38"/><line x1="180.4" y1="36.3" x2="180.4" y2="79.7" stroke="#909090" stroke-width="0.9" stroke-opacity="0.26"/><line x1="191.7" y1="36.3" x2="191.7" y2="79.7" stroke="#909090" stroke-width="0.9" stroke-opacity="0.26"/><line x1="203" y1="36.3" x2="203" y2="79.7" stroke="#909090" stroke-width="0.9" stroke-opacity="0.26"/><line x1="70.8" y1="69.9" x2="209.1" y2="69.9" stroke="#909090" stroke-width="0.9" stroke-opacity="0.26"/><line x1="70.8" y1="61.6" x2="209.1" y2="61.6" stroke="#909090" stroke-width="0.9" stroke-opacity="0.26"/><line x1="70.8" y1="53.4" x2="209.1" y2="53.4" stroke="#909090" stroke-width="0.9" stroke-opacity="0.26"/><line x1="70.8" y1="45.1" x2="209.1" y2="45.1" stroke="#909090" stroke-width="0.9" stroke-opacity="0.26"/><line x1="70.8" y1="36.8" x2="209.1" y2="36.8" stroke="#e05050" stroke-width="0.9" stroke-opacity="0.38"/><line x1="71.89999999999999" y1="32.8" x2="71.89999999999999" y2="80.7" stroke="#8a8a8a" stroke-width="1.9" stroke-opacity="0.75"/><line x1="69.3" y1="78.2" x2="210.5" y2="78.2" stroke="#6a5a5a" stroke-width="1" stroke-opacity="0.55"/><path d="M213.5 78.2 l-5 -2.4 v4.8z" fill="#8a1c1c"/><path d="M72.3 30.299999999999997 l-2.2 4.2 h4.4z" fill="#8a1c1c"/><text x="65.4" y="40.2" font-size="10" text-anchor="end" fill="#222">100</text><text x="65.4" y="81.6" font-size="10" text-anchor="end" fill="#222">0</text><text x="78.4" y="93.7" font-size="10" text-anchor="middle" fill="#222">06:00</text><text x="123.4" y="93.7" font-size="10" text-anchor="middle" fill="#222">08:00</text><text x="168.6" y="93.7" font-size="10" text-anchor="middle" fill="#222">10:00</text><text x="120.0" y="24.0" font-size="13.75" text-anchor="middle" fill="#222">n20 cpu usage</text><text transform="translate(21.2,57.8) rotate(-90)" font-size="12" text-anchor="middle" fill="#222">% cpu</text><text transform="translate(225.3,9) rotate(90)" font-size="6.6" fill="#cdcdcd" style="stroke:none" font-family="Liberation Sans, sans-serif" textLength="100" lengthAdjust="spacingAndGlyphs">RRDTOOL / TOBI OETIKER</text></g></svg>
<svg class="g" style="left:39px;top:1117px" width="242" height="116"><g transform="translate(0.50,0.80)"><rect x="0" y="0" width="240.5" height="113.8" fill="#2e2ee8"/><rect x="3.1" y="3.1" width="234.3" height="107.6" fill="#f0f0f0"/><path d="M3.1 110.10000000000001 L236.8 110.10000000000001 L236.8 3.1" fill="none" stroke="#a5a5a5" stroke-width="1.2"/><path d="M3.7 110.7 L3.7 3.7 L237.4 3.7" fill="none" stroke="#d8d8d8" stroke-width="1.2"/><rect x="72.3" y="36.8" width="135.3" height="41.400000000000006" fill="#fff"/><path d="M72.6 78.2 L97.5 78.2 L98.2 74.1 L100.5 74.1 L101.2 65.8 L102.5 65.8 L103.2 69.9 L104.5 69.9 L105.2 61.6 L105.9 61.6 L106.6 72 L107.5 72 L108.2 63.7 L108.9 63.7 L109.6 72 L111.5 72 L112.2 47.1 L114.5 47.1 L115.2 61.6 L116.5 61.6 L117.2 69.9 L119.5 69.9 L120.2 63.7 L121.5 63.7 L122.2 69.9 L124.6 69.9 L125.3 66.6 L126.6 66.6 L127.3 69.9 L129.6 69.9 L130.3 67.8 L131.6 67.8 L132.3 72 L133.6 72 L134.3 61.6 L135 61.6 L135.7 72 L137.6 72 L138.3 65.8 L139.6 65.8 L140.3 72 L141.6 72 L142.3 65.8 L143.6 65.8 L144.3 69.9 L145.6 69.9 L146.3 61.6 L148.7 61.6 L149.4 72 L150.7 72 L151.4 76.1 L159.7 76.1 L160.4 65.8 L161.7 65.8 L162.4 74.1 L163.1 74.1 L163.8 61.6 L165.1 61.6 L165.8 72 L167.7 72 L168.4 65.8 L169.7 65.8 L170.4 72 L171.7 72 L172.4 57.5 L174.8 57.5 L175.5 57.5 L179.8 57.5 L180.5 60.8 L184.8 60.8 L185.5 62.5 L204.9 62.5 L205.6 78.2 L205.9 78.2 L206.2 78.2 L72.3 78.2Z" fill="#2fd9e6"/><path d="M72.3 78.2 L97.8 78.2 L100.8 73.2 L103.8 68.3 L105.8 70.7 L107.8 67.4 L110.5 70.7 L112.9 59.2 L114.9 58.3 L117.3 68.3 L119.9 72.4 L121.9 69.1 L124.9 70.3 L127.9 68.7 L130.9 70.7 L133.9 68.3 L137 71.2 L140 69.1 L143 70.7 L146 67.8 L148.6 68.3 L151 74.1 L154 76.1 L159 76.5 L161.1 72.8 L163.5 69.1 L166.1 71.6 L168.7 68.7 L171.5 71.6 L174.1 63.3 L176.7 58.7 L179.1 59.2 L182.1 60.8 L185.2 61.2 L189.2 62.1 L205.2 62.1" fill="none" stroke="#e8182c" stroke-width="1.1" stroke-opacity="0.85" stroke-linejoin="round"/><path d="M72.3 78.2 L97.8 78.2 L101.8 74.1 L105.8 70.7 L110.5 70.3 L113.9 62.5 L116.5 65 L119.9 69.5 L124.9 69.9 L135 69.9 L145 69.9 L149 69.1 L152 73.2 L156 75.7 L160.1 76.1 L164.1 72 L169.1 70.7 L172.7 70.3 L175.5 65 L179.1 61.6 L185.2 61.6 L193.2 62.1 L205.2 62.1" fill="none" stroke="#2233dd" stroke-width="1.0" stroke-opacity="0.8" stroke-linejoin="round"/><path d="M72.3 78 L97.8 78 L102.8 75.3 L107.8 72.4 L111.9 70.7 L114.9 65.8 L117.9 66.2 L121.9 68.7 L128.9 69.9 L141 69.9 L149 69.9 L153 72.4 L158 74.9 L162.1 74.9 L167.1 72.8 L172.1 71.6 L175.1 68.3 L179.1 64.5 L184.1 62.9 L193.2 62.3 L205.2 62.3" fill="none" stroke="#b020e0" stroke-width="1.2" stroke-opacity="0.9" stroke-linejoin="round"/><line x1="78.9" y1="36.3" x2="78.9" y2="79.7" stroke="#e05050" stroke-width="0.9" stroke-opacity="0.38"/><line x1="90.2" y1="36.3" x2="90.2" y2="79.7" stroke="#909090" stroke-width="0.9" stroke-opacity="0.2"/><line x1="101.5" y1="36.3" x2="101.5" y2="79.7" stroke="#909090" stroke-width="0.9" stroke-opacity="0.2"/><line x1="112.7" y1="36.3" x2="112.7" y2="79.7" stroke="#909090" stroke-width="0.9" stroke-opacity="0.2"/><line x1="124" y1="36.3" x2="124" y2="79.7" stroke="#e05050" stroke-width="0.9" stroke-opacity="0.38"/><line x1="135.3" y1="36.3" x2="135.3" y2="79.7" stroke="#909090" stroke-width="0.9" stroke-opacity="0.2"/><line x1="146.6" y1="36.3" x2="146.6" y2="79.7" stroke="#909090" stroke-width="0.9" stroke-opacity="0.2"/><line x1="157.9" y1="36.3" x2="157.9" y2="79.7" stroke="#909090" stroke-width="0.9" stroke-opacity="0.2"/><line x1="169.1" y1="36.3" x2="169.1" y2="79.7" stroke="#e05050" stroke-width="0.9" stroke-opacity="0.38"/><line x1="180.4" y1="36.3" x2="180.4" y2="79.7" stroke="#909090" stroke-width="0.9" stroke-opacity="0.2"/><line x1="191.7" y1="36.3" x2="191.7" y2="79.7" stroke="#909090" stroke-width="0.9" stroke-opacity="0.2"/><line x1="203" y1="36.3" x2="203" y2="79.7" stroke="#909090" stroke-width="0.9" stroke-opacity="0.2"/><line x1="70.8" y1="69.9" x2="209.1" y2="69.9" stroke="#909090" stroke-width="0.9" stroke-opacity="0.2"/><line x1="70.8" y1="61.6" x2="209.1" y2="61.6" stroke="#909090" stroke-width="0.9" stroke-opacity="0.2"/><line x1="70.8" y1="53.4" x2="209.1" y2="53.4" stroke="#909090" stroke-width="0.9" stroke-opacity="0.2"/><line x1="70.8" y1="45.1" x2="209.1" y2="45.1" stroke="#909090" stroke-width="0.9" stroke-opacity="0.2"/><line x1="70.8" y1="36.8" x2="209.1" y2="36.8" stroke="#e05050" stroke-width="0.9" stroke-opacity="0.38"/><line x1="71.89999999999999" y1="32.8" x2="71.89999999999999" y2="80.7" stroke="#8a8a8a" stroke-width="1.9" stroke-opacity="0.75"/><line x1="69.3" y1="78.2" x2="210.5" y2="78.2" stroke="#6a5a5a" stroke-width="1" stroke-opacity="0.55"/><path d="M213.5 78.2 l-5 -2.4 v4.8z" fill="#8a1c1c"/><path d="M72.3 30.299999999999997 l-2.2 4.2 h4.4z" fill="#8a1c1c"/><text x="65.4" y="40.2" font-size="10" text-anchor="end" fill="#222">10</text><text x="65.4" y="81.6" font-size="10" text-anchor="end" fill="#222">0</text><text x="78.4" y="93.7" font-size="10" text-anchor="middle" fill="#222">06:00</text><text x="123.4" y="93.7" font-size="10" text-anchor="middle" fill="#222">08:00</text><text x="168.6" y="93.7" font-size="10" text-anchor="middle" fill="#222">10:00</text><text x="120.0" y="24.0" font-size="13.75" text-anchor="middle" fill="#222">n20 load average</text><text transform="translate(21.2,57.8) rotate(-90)" font-size="12" text-anchor="middle" fill="#222">load average</text><text transform="translate(225.3,9) rotate(90)" font-size="6.6" fill="#cdcdcd" style="stroke:none" font-family="Liberation Sans, sans-serif" textLength="100" lengthAdjust="spacingAndGlyphs">RRDTOOL / TOBI OETIKER</text></g></svg>
<svg class="g" style="left:282px;top:1117px" width="243" height="116"><g transform="translate(0.90,0.80)"><rect x="0" y="0" width="240.5" height="113.8" fill="#2e2ee8"/><rect x="3.1" y="3.1" width="234.3" height="107.6" fill="#f0f0f0"/><path d="M3.1 110.10000000000001 L236.8 110.10000000000001 L236.8 3.1" fill="none" stroke="#a5a5a5" stroke-width="1.2"/><path d="M3.7 110.7 L3.7 3.7 L237.4 3.7" fill="none" stroke="#d8d8d8" stroke-width="1.2"/><rect x="72.3" y="36.8" width="135.3" height="41.400000000000006" fill="#fff"/><line x1="78.9" y1="36.3" x2="78.9" y2="79.7" stroke="#e05050" stroke-width="0.9" stroke-opacity="0.38"/><line x1="90.2" y1="36.3" x2="90.2" y2="79.7" stroke="#909090" stroke-width="0.9" stroke-opacity="0.2"/><line x1="101.5" y1="36.3" x2="101.5" y2="79.7" stroke="#909090" stroke-width="0.9" stroke-opacity="0.2"/><line x1="112.7" y1="36.3" x2="112.7" y2="79.7" stroke="#909090" stroke-width="0.9" stroke-opacity="0.2"/><line x1="124" y1="36.3" x2="124" y2="79.7" stroke="#e05050" stroke-width="0.9" stroke-opacity="0.38"/><line x1="135.3" y1="36.3" x2="135.3" y2="79.7" stroke="#909090" stroke-width="0.9" stroke-opacity="0.2"/><line x1="146.6" y1="36.3" x2="146.6" y2="79.7" stroke="#909090" stroke-width="0.9" stroke-opacity="0.2"/><line x1="157.9" y1="36.3" x2="157.9" y2="79.7" stroke="#909090" stroke-width="0.9" stroke-opacity="0.2"/><line x1="169.1" y1="36.3" x2="169.1" y2="79.7" stroke="#e05050" stroke-width="0.9" stroke-opacity="0.38"/><line x1="180.4" y1="36.3" x2="180.4" y2="79.7" stroke="#909090" stroke-width="0.9" stroke-opacity="0.2"/><line x1="191.7" y1="36.3" x2="191.7" y2="79.7" stroke="#909090" stroke-width="0.9" stroke-opacity="0.2"/><line x1="203" y1="36.3" x2="203" y2="79.7" stroke="#909090" stroke-width="0.9" stroke-opacity="0.2"/><line x1="70.8" y1="69.9" x2="209.1" y2="69.9" stroke="#909090" stroke-width="0.9" stroke-opacity="0.2"/><line x1="70.8" y1="61.6" x2="209.1" y2="61.6" stroke="#909090" stroke-width="0.9" stroke-opacity="0.2"/><line x1="70.8" y1="53.4" x2="209.1" y2="53.4" stroke="#909090" stroke-width="0.9" stroke-opacity="0.2"/><line x1="70.8" y1="45.1" x2="209.1" y2="45.1" stroke="#909090" stroke-width="0.9" stroke-opacity="0.2"/><line x1="70.8" y1="36.8" x2="209.1" y2="36.8" stroke="#e05050" stroke-width="0.9" stroke-opacity="0.38"/><line x1="71.89999999999999" y1="32.8" x2="71.89999999999999" y2="80.7" stroke="#8a8a8a" stroke-width="1.9" stroke-opacity="0.75"/><line x1="69.3" y1="78.2" x2="210.5" y2="78.2" stroke="#6a5a5a" stroke-width="1" stroke-opacity="0.55"/><path d="M213.5 78.2 l-5 -2.4 v4.8z" fill="#8a1c1c"/><path d="M72.3 30.299999999999997 l-2.2 4.2 h4.4z" fill="#8a1c1c"/><text x="65.4" y="40.2" font-size="10" text-anchor="end" fill="#222">100</text><text x="65.4" y="81.6" font-size="10" text-anchor="end" fill="#222">0</text><text x="78.4" y="93.7" font-size="10" text-anchor="middle" fill="#222">06:00</text><text x="123.4" y="93.7" font-size="10" text-anchor="middle" fill="#222">08:00</text><text x="168.6" y="93.7" font-size="10" text-anchor="middle" fill="#222">10:00</text><text x="120.0" y="24.0" font-size="13.75" text-anchor="middle" fill="#222">n20 mem buffers</text><text transform="translate(21.2,57.8) rotate(-90)" font-size="12" text-anchor="middle" fill="#222">% memory</text><text transform="translate(225.3,9) rotate(90)" font-size="6.6" fill="#cdcdcd" style="stroke:none" font-family="Liberation Sans, sans-serif" textLength="100" lengthAdjust="spacingAndGlyphs">RRDTOOL / TOBI OETIKER</text></g></svg>
<svg class="g" style="left:526px;top:1117px" width="242" height="116"><g transform="translate(0.30,0.80)"><rect x="0" y="0" width="240.5" height="113.8" fill="#2e2ee8"/><rect x="3.1" y="3.1" width="234.3" height="107.6" fill="#f0f0f0"/><path d="M3.1 110.10000000000001 L236.8 110.10000000000001 L236.8 3.1" fill="none" stroke="#a5a5a5" stroke-width="1.2"/><path d="M3.7 110.7 L3.7 3.7 L237.4 3.7" fill="none" stroke="#d8d8d8" stroke-width="1.2"/><rect x="72.3" y="36.8" width="135.3" height="41.400000000000006" fill="#fff"/><line x1="78.9" y1="36.3" x2="78.9" y2="79.7" stroke="#e05050" stroke-width="0.9" stroke-opacity="0.38"/><line x1="90.2" y1="36.3" x2="90.2" y2="79.7" stroke="#909090" stroke-width="0.9" stroke-opacity="0.2"/><line x1="101.5" y1="36.3" x2="101.5" y2="79.7" stroke="#909090" stroke-width="0.9" stroke-opacity="0.2"/><line x1="112.7" y1="36.3" x2="112.7" y2="79.7" stroke="#909090" stroke-width="0.9" stroke-opacity="0.2"/><line x1="124" y1="36.3" x2="124" y2="79.7" stroke="#e05050" stroke-width="0.9" stroke-opacity="0.38"/><line x1="135.3" y1="36.3" x2="135.3" y2="79.7" stroke="#909090" stroke-width="0.9" stroke-opacity="0.2"/><line x1="146.6" y1="36.3" x2="146.6" y2="79.7" stroke="#909090" stroke-width="0.9" stroke-opacity="0.2"/><line x1="157.9" y1="36.3" x2="157.9" y2="79.7" stroke="#909090" stroke-width="0.9" stroke-opacity="0.2"/><line x1="169.1" y1="36.3" x2="169.1" y2="79.7" stroke="#e05050" stroke-width="0.9" stroke-opacity="0.38"/><line x1="180.4" y1="36.3" x2="180.4" y2="79.7" stroke="#909090" stroke-width="0.9" stroke-opacity="0.2"/><line x1="191.7" y1="36.3" x2="191.7" y2="79.7" stroke="#909090" stroke-width="0.9" stroke-opacity="0.2"/><line x1="203" y1="36.3" x2="203" y2="79.7" stroke="#909090" stroke-width="0.9" stroke-opacity="0.2"/><line x1="70.8" y1="69.9" x2="209.1" y2="69.9" stroke="#909090" stroke-width="0.9" stroke-opacity="0.2"/><line x1="70.8" y1="61.6" x2="209.1" y2="61.6" stroke="#909090" stroke-width="0.9" stroke-opacity="0.2"/><line x1="70.8" y1="53.4" x2="209.1" y2="53.4" stroke="#909090" stroke-width="0.9" stroke-opacity="0.2"/><line x1="70.8" y1="45.1" x2="209.1" y2="45.1" stroke="#909090" stroke-width="0.9" stroke-opacity="0.2"/><line x1="70.8" y1="36.8" x2="209.1" y2="36.8" stroke="#e05050" stroke-width="0.9" stroke-opacity="0.38"/><line x1="71.89999999999999" y1="32.8" x2="71.89999999999999" y2="80.7" stroke="#8a8a8a" stroke-width="1.9" stroke-opacity="0.75"/><line x1="69.3" y1="78.2" x2="210.5" y2="78.2" stroke="#6a5a5a" stroke-width="1" stroke-opacity="0.55"/><path d="M213.5 78.2 l-5 -2.4 v4.8z" fill="#8a1c1c"/><path d="M72.3 30.299999999999997 l-2.2 4.2 h4.4z" fill="#8a1c1c"/><text x="65.4" y="40.2" font-size="10" text-anchor="end" fill="#222">100</text><text x="65.4" y="81.6" font-size="10" text-anchor="end" fill="#222">0</text><text x="78.4" y="93.7" font-size="10" text-anchor="middle" fill="#222">06:00</text><text x="123.4" y="93.7" font-size="10" text-anchor="middle" fill="#222">08:00</text><text x="168.6" y="93.7" font-size="10" text-anchor="middle" fill="#222">10:00</text><text x="120.0" y="24.0" font-size="13.75" text-anchor="middle" fill="#222">n20 mem shared</text><text transform="translate(21.2,57.8) rotate(-90)" font-size="12" text-anchor="middle" fill="#222">% memory</text><text transform="translate(225.3,9) rotate(90)" font-size="6.6" fill="#cdcdcd" style="stroke:none" font-family="Liberation Sans, sans-serif" textLength="100" lengthAdjust="spacingAndGlyphs">RRDTOOL / TOBI OETIKER</text></g></svg>
<svg class="g" style="left:39px;top:1234px" width="242" height="116"><g transform="translate(0.50,0.90)"><rect x="0" y="0" width="240.5" height="113.8" fill="#2e2ee8"/><rect x="3.1" y="3.1" width="234.3" height="107.6" fill="#f0f0f0"/><path d="M3.1 110.10000000000001 L236.8 110.10000000000001 L236.8 3.1" fill="none" stroke="#a5a5a5" stroke-width="1.2"/><path d="M3.7 110.7 L3.7 3.7 L237.4 3.7" fill="none" stroke="#d8d8d8" stroke-width="1.2"/><rect x="72.3" y="36.8" width="135.3" height="41.400000000000006" fill="#fff"/><path d="M72.6 76.5 L111.5 76.5 L112.2 45.1 L113.1 45.1 L113.8 37.6 L114.9 37.6 L115.6 54.2 L116.9 54.2 L117.6 60.8 L118.5 60.8 L119.2 62.9 L172.8 62.9 L173.5 47.1 L174.8 47.1 L175.5 37.6 L177.2 37.6 L177.9 58.7 L179.2 58.7 L179.9 69.9 L201.9 69.9 L202.6 78.2 L202.9 78.2 L203.2 78.2 L72.3 78.2Z" fill="#a846dc"/><line x1="78.9" y1="36.3" x2="78.9" y2="79.7" stroke="#e05050" stroke-width="0.9" stroke-opacity="0.38"/><line x1="90.2" y1="36.3" x2="90.2" y2="79.7" stroke="#909090" stroke-width="0.9" stroke-opacity="0.2"/><line x1="101.5" y1="36.3" x2="101.5" y2="79.7" stroke="#909090" stroke-width="0.9" stroke-opacity="0.2"/><line x1="112.7" y1="36.3" x2="112.7" y2="79.7" stroke="#909090" stroke-width="0.9" stroke-opacity="0.2"/><line x1="124" y1="36.3" x2="124" y2="79.7" stroke="#e05050" stroke-width="0.9" stroke-opacity="0.38"/><line x1="135.3" y1="36.3" x2="135.3" y2="79.7" stroke="#909090" stroke-width="0.9" stroke-opacity="0.2"/><line x1="146.6" y1="36.3" x2="146.6" y2="79.7" stroke="#909090" stroke-width="0.9" stroke-opacity="0.2"/><line x1="157.9" y1="36.3" x2="157.9" y2="79.7" stroke="#909090" stroke-width="0.9" stroke-opacity="0.2"/><line x1="169.1" y1="36.3" x2="169.1" y2="79.7" stroke="#e05050" stroke-width="0.9" stroke-opacity="0.38"/><line x1="180.4" y1="36.3" x2="180.4" y2="79.7" stroke="#909090" stroke-width="0.9" stroke-opacity="0.2"/><line x1="191.7" y1="36.3" x2="191.7" y2="79.7" stroke="#909090" stroke-width="0.9" stroke-opacity="0.2"/><line x1="203" y1="36.3" x2="203" y2="79.7" stroke="#909090" stroke-width="0.9" stroke-opacity="0.2"/><line x1="70.8" y1="69.9" x2="209.1" y2="69.9" stroke="#909090" stroke-width="0.9" stroke-opacity="0.2"/><line x1="70.8" y1="61.6" x2="209.1" y2="61.6" stroke="#909090" stroke-width="0.9" stroke-opacity="0.2"/><line x1="70.8" y1="53.4" x2="209.1" y2="53.4" stroke="#909090" stroke-width="0.9" stroke-opacity="0.2"/><line x1="70.8" y1="45.1" x2="209.1" y2="45.1" stroke="#909090" stroke-width="0.9" stroke-opacity="0.2"/><line x1="70.8" y1="36.8" x2="209.1" y2="36.8" stroke="#e05050" stroke-width="0.9" stroke-opacity="0.38"/><line x1="71.89999999999999" y1="32.8" x2="71.89999999999999" y2="80.7" stroke="#8a8a8a" stroke-width="1.9" stroke-opacity="0.75"/><line x1="69.3" y1="78.2" x2="210.5" y2="78.2" stroke="#6a5a5a" stroke-width="1" stroke-opacity="0.55"/><path d="M213.5 78.2 l-5 -2.4 v4.8z" fill="#8a1c1c"/><path d="M72.3 30.299999999999997 l-2.2 4.2 h4.4z" fill="#8a1c1c"/><text x="65.4" y="40.2" font-size="10" text-anchor="end" fill="#222">100</text><text x="65.4" y="81.6" font-size="10" text-anchor="end" fill="#222">0</text><text x="78.4" y="93.7" font-size="10" text-anchor="middle" fill="#222">06:00</text><text x="123.4" y="93.7" font-size="10" text-anchor="middle" fill="#222">08:00</text><text x="168.6" y="93.7" font-size="10" text-anchor="middle" fill="#222">10:00</text><text x="120.0" y="24.0" font-size="13.75" text-anchor="middle" fill="#222">n20 mem used</text><text transform="translate(21.2,57.8) rotate(-90)" font-size="12" text-anchor="middle" fill="#222">% memory</text><text transform="translate(225.3,9) rotate(90)" font-size="6.6" fill="#cdcdcd" style="stroke:none" font-family="Liberation Sans, sans-serif" textLength="100" lengthAdjust="spacingAndGlyphs">RRDTOOL / TOBI OETIKER</text></g></svg>
<svg class="g" style="left:282px;top:1234px" width="243" height="116"><g transform="translate(0.90,0.90)"><rect x="0" y="0" width="240.5" height="113.8" fill="#2e2ee8"/><rect x="3.1" y="3.1" width="234.3" height="107.6" fill="#f0f0f0"/><path d="M3.1 110.10000000000001 L236.8 110.10000000000001 L236.8 3.1" fill="none" stroke="#a5a5a5" stroke-width="1.2"/><path d="M3.7 110.7 L3.7 3.7 L237.4 3.7" fill="none" stroke="#d8d8d8" stroke-width="1.2"/><rect x="72.3" y="36.8" width="135.3" height="41.400000000000006" fill="#fff"/><rect x="72.3" y="41.1" width="130.5" height="37.1" fill="#e1f1fc"/><path d="M72.6 76.8 L110.9 76.8 L111.6 72.8 L112.9 72.8 L113.6 62.5 L114.9 62.5 L115.6 68.5 L116.5 68.5 L117.2 70.4 L173.8 70.4 L174.5 70.1 L175.2 70.1 L175.9 67.4 L176.8 67.4 L177.5 72.2 L178.8 72.2 L179.5 74.1 L202.5 74.1 L203.2 78.2 L203.3 78.2 L203.6 78.2 L72.3 78.2Z" fill="#a846dc"/><line x1="78.9" y1="36.3" x2="78.9" y2="79.7" stroke="#e05050" stroke-width="0.9" stroke-opacity="0.38"/><line x1="90.2" y1="36.3" x2="90.2" y2="79.7" stroke="#909090" stroke-width="0.9" stroke-opacity="0.26"/><line x1="101.5" y1="36.3" x2="101.5" y2="79.7" stroke="#909090" stroke-width="0.9" stroke-opacity="0.26"/><line x1="112.7" y1="36.3" x2="112.7" y2="79.7" stroke="#909090" stroke-width="0.9" stroke-opacity="0.26"/><line x1="124" y1="36.3" x2="124" y2="79.7" stroke="#e05050" stroke-width="0.9" stroke-opacity="0.38"/><line x1="135.3" y1="36.3" x2="135.3" y2="79.7" stroke="#909090" stroke-width="0.9" stroke-opacity="0.26"/><line x1="146.6" y1="36.3" x2="146.6" y2="79.7" stroke="#909090" stroke-width="0.9" stroke-opacity="0.26"/><line x1="157.9" y1="36.3" x2="157.9" y2="79.7" stroke="#909090" stroke-width="0.9" stroke-opacity="0.26"/><line x1="169.1" y1="36.3" x2="169.1" y2="79.7" stroke="#e05050" stroke-width="0.9" stroke-opacity="0.38"/><line x1="180.4" y1="36.3" x2="180.4" y2="79.7" stroke="#909090" stroke-width="0.9" stroke-opacity="0.26"/><line x1="191.7" y1="36.3" x2="191.7" y2="79.7" stroke="#909090" stroke-width="0.9" stroke-opacity="0.26"/><line x1="203" y1="36.3" x2="203" y2="79.7" stroke="#909090" stroke-width="0.9" stroke-opacity="0.26"/><line x1="70.8" y1="67.4" x2="209.1" y2="67.4" stroke="#909090" stroke-width="0.9" stroke-opacity="0.26"/><line x1="70.8" y1="56.6" x2="209.1" y2="56.6" stroke="#909090" stroke-width="0.9" stroke-opacity="0.26"/><line x1="70.8" y1="45.7" x2="209.1" y2="45.7" stroke="#e05050" stroke-width="0.9" stroke-opacity="0.38"/><line x1="71.89999999999999" y1="32.8" x2="71.89999999999999" y2="80.7" stroke="#8a8a8a" stroke-width="1.9" stroke-opacity="0.75"/><line x1="69.3" y1="78.2" x2="210.5" y2="78.2" stroke="#6a5a5a" stroke-width="1" stroke-opacity="0.55"/><path d="M213.5 78.2 l-5 -2.4 v4.8z" fill="#8a1c1c"/><path d="M72.3 30.299999999999997 l-2.2 4.2 h4.4z" fill="#8a1c1c"/><text x="65.4" y="49.1" font-size="10" text-anchor="end" fill="#222">6.0 G</text><text x="65.4" y="81.6" font-size="10" text-anchor="end" fill="#222">0.0</text><text x="78.4" y="93.7" font-size="10" text-anchor="middle" fill="#222">06:00</text><text x="123.4" y="93.7" font-size="10" text-anchor="middle" fill="#222">08:00</text><text x="168.6" y="93.7" font-size="10" text-anchor="middle" fill="#222">10:00</text><text x="120.0" y="24.0" font-size="13.75" text-anchor="middle" fill="#222">n20 swap</text><text transform="translate(21.2,57.8) rotate(-90)" font-size="12" text-anchor="middle" fill="#222">Bytes</text><text transform="translate(225.3,9) rotate(90)" font-size="6.6" fill="#cdcdcd" style="stroke:none" font-family="Liberation Sans, sans-serif" textLength="100" lengthAdjust="spacingAndGlyphs">RRDTOOL / TOBI OETIKER</text></g></svg>
</div></body></html>
